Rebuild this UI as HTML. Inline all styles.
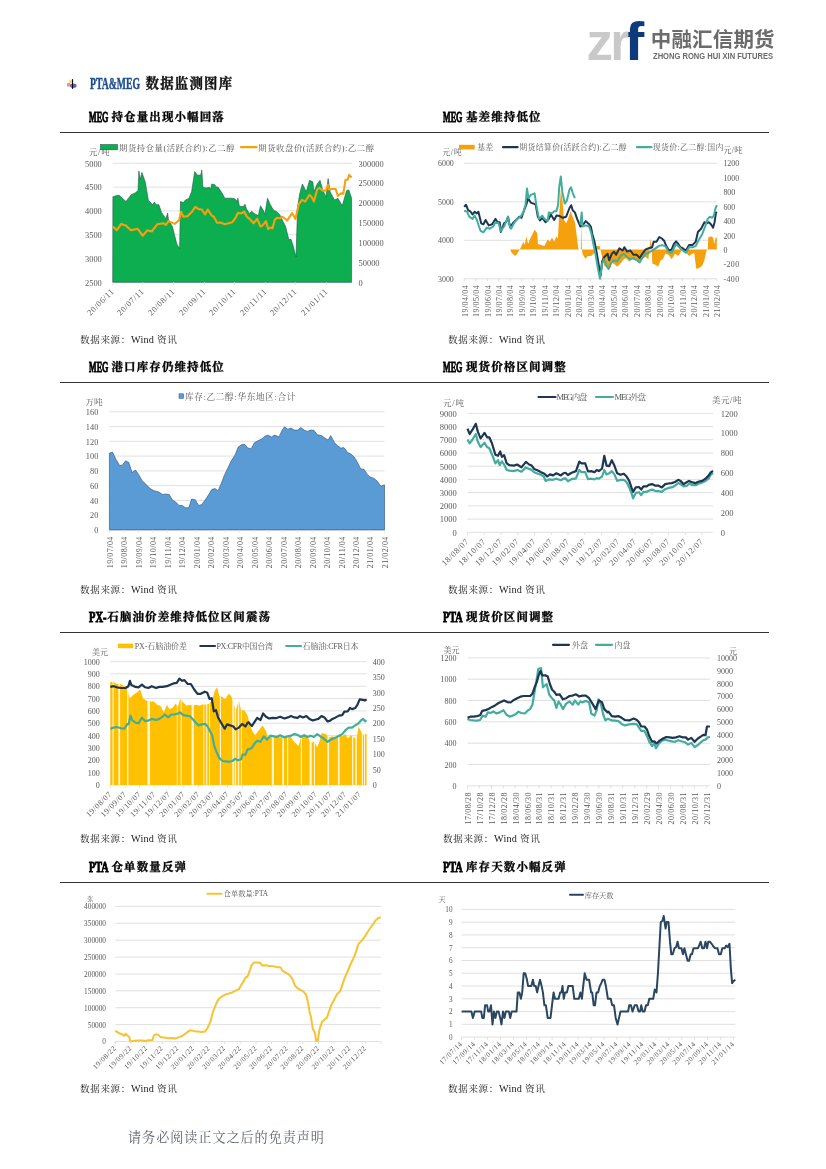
<!DOCTYPE html>
<html lang="zh"><head><meta charset="utf-8"><title>PTA&amp;MEG 数据监测图库</title>
<style>
html,body{margin:0;padding:0;background:#fff}
body{width:826px;height:1169px;position:relative;overflow:hidden;font-family:"Liberation Serif","Noto Serif CJK SC",serif}
svg{position:absolute;left:0;top:0}
svg text.s{font-family:"Liberation Sans","Noto Sans CJK SC",sans-serif;fill:#595959}
svg text.r{font-family:"Liberation Serif","Noto Serif CJK SC",serif;fill:#595959}
svg text.c{font-family:"Liberation Serif","Noto Serif CJK SC",serif;fill:#595959}
.t{position:absolute;font-weight:700;-webkit-text-stroke:.35px #000;font-size:11.5px;letter-spacing:1.1px;line-height:14px;color:#000;white-space:nowrap;font-family:"Liberation Serif","Noto Serif CJK SC",serif}
.n{display:inline-block;height:14px;vertical-align:top;white-space:nowrap}
.n>span{display:inline-block;letter-spacing:0;font-size:15px;font-weight:700;transform:scaleX(.54);transform-origin:0 50%;-webkit-text-stroke:.9px currentColor}
.src{position:absolute;font-size:9.6px;letter-spacing:.6px;line-height:12px;color:#1a1a1a;white-space:nowrap}
.src .w{letter-spacing:.2px;font-size:10.2px}
.hr{position:absolute;left:60px;width:709px;height:1px;background:#333}
.sec{position:absolute;left:89.5px;top:76.3px;font-size:13.4px;letter-spacing:1.25px;line-height:16px;font-weight:700;-webkit-text-stroke:.35px #111;color:#111;white-space:nowrap}
.sec .n{height:16px;width:56px;color:#1f4e8f}
.sec .n>span{font-size:16.5px;transform:scaleX(.59);-webkit-text-stroke:.5px #1f4e8f}
.foot{position:absolute;left:128px;top:1130.4px;font-size:13.1px;letter-spacing:.97px;line-height:16px;color:#5d6470;white-space:nowrap}
.logo{position:absolute;left:0;top:0}
.lcn{position:absolute;left:650.8px;top:26.9px;font:700 20.5px/26px "Liberation Sans","Noto Sans CJK SC",sans-serif;color:#6b6b6b;white-space:nowrap;letter-spacing:.15px}
.len{position:absolute;left:652.5px;top:49.7px;font:700 9.6px/12px "Liberation Sans",sans-serif;color:#6b6b6b;white-space:nowrap;transform:scaleX(.79);transform-origin:0 50%}
</style></head><body>
<svg width="826" height="1169" viewBox="0 0 826 1169">
<line x1="112.7" y1="163.3" x2="351.6" y2="163.3" stroke="#dcdcdc" stroke-width="0.9"/>
<line x1="112.7" y1="187.1" x2="351.6" y2="187.1" stroke="#dcdcdc" stroke-width="0.9"/>
<line x1="112.7" y1="210.9" x2="351.6" y2="210.9" stroke="#dcdcdc" stroke-width="0.9"/>
<line x1="112.7" y1="234.7" x2="351.6" y2="234.7" stroke="#dcdcdc" stroke-width="0.9"/>
<line x1="112.7" y1="258.5" x2="351.6" y2="258.5" stroke="#dcdcdc" stroke-width="0.9"/>
<line x1="112.7" y1="282.3" x2="351.6" y2="282.3" stroke="#dcdcdc" stroke-width="0.9"/>
<polygon points="112.7,282.3 112.9,196.7 116.8,195.6 119.0,195.2 122.3,198.2 126.0,201.5 131.0,194.9 135.4,192.8 138.0,190.6 138.9,171.0 140.2,179.7 141.9,172.5 145.2,181.8 148.4,200.4 152.8,204.7 154.3,202.1 156.1,204.7 158.9,204.7 161.5,212.4 165.9,218.9 167.6,213.0 168.5,220.0 172.4,226.5 174.6,235.2 176.8,244.0 179.6,248.8 180.5,201.5 183.3,202.6 185.5,199.9 188.8,198.6 191.6,191.7 194.7,171.6 197.5,175.3 200.8,174.9 201.8,169.9 202.9,187.3 206.2,187.9 209.5,187.3 210.6,189.5 211.7,184.0 214.9,184.7 216.0,186.9 218.2,187.3 222.5,193.8 224.7,198.2 231.3,198.2 234.5,198.6 237.4,201.5 237.8,198.2 239.5,206.5 243.2,206.5 245.0,204.3 246.5,209.1 249.6,213.4 251.8,211.3 254.0,213.4 258.3,215.6 260.5,205.8 263.8,211.3 264.9,214.5 267.5,198.2 270.3,204.7 273.6,210.2 276.9,211.7 280.1,215.2 282.3,220.0 285.6,226.5 288.8,239.6 291.0,239.2 293.2,246.1 296.0,257.0 297.6,206.9 299.7,193.8 302.4,184.0 306.3,191.7 309.5,180.3 312.8,181.8 313.9,191.7 317.2,184.0 320.0,180.3 322.6,189.5 325.9,197.1 328.1,178.6 330.2,192.1 334.6,199.9 337.9,198.2 342.2,205.8 344.4,198.2 346.6,190.6 348.8,189.9 351.6,198.2 351.6,282.3" fill="#0cae50" stroke="#1f5a4a" stroke-width="0.6" stroke-linejoin="round"/>
<polyline points="112.9,226.5 116.8,230.2 121.2,223.9 125.6,225.4 131.0,230.2 137.6,228.7 142.6,235.7 147.4,230.2 151.7,231.5 157.2,224.3 163.7,223.3 165.9,224.8 168.5,221.1 174.6,223.9 179.0,220.4 181.1,211.7 183.3,216.7 187.7,216.1 192.0,211.7 195.3,206.9 198.6,209.1 201.8,209.5 205.1,214.5 207.7,209.5 211.7,215.6 213.8,216.7 217.1,222.8 220.4,222.6 224.7,224.3 232.3,222.2 235.6,217.8 237.8,213.0 241.1,213.4 244.3,211.7 246.9,216.7 249.6,218.9 253.5,223.3 257.2,218.9 260.5,226.5 262.7,225.4 266.0,221.1 268.1,229.1 270.3,227.6 272.5,228.3 274.7,220.0 276.9,217.8 280.1,218.2 281.9,216.7 284.5,218.2 287.1,220.6 292.1,213.0 295.4,218.9 298.6,204.7 301.9,199.9 305.2,201.5 309.5,194.9 311.7,197.1 313.9,201.5 317.2,189.5 319.4,187.9 322.6,190.6 325.9,190.6 328.1,184.7 329.1,189.5 332.4,189.0 335.7,189.0 337.9,196.0 341.1,193.4 343.3,193.8 345.5,179.7 347.7,179.7 349.2,174.9 351.6,177.5" fill="none" stroke="#f5a10e" stroke-width="2.1" stroke-linejoin="round"/>
<line x1="112.7" y1="282.3" x2="112.7" y2="284.9" stroke="#dcdcdc" stroke-width="0.9"/>
<line x1="142.6" y1="282.3" x2="142.6" y2="284.9" stroke="#dcdcdc" stroke-width="0.9"/>
<line x1="173.5" y1="282.3" x2="173.5" y2="284.9" stroke="#dcdcdc" stroke-width="0.9"/>
<line x1="204.5" y1="282.3" x2="204.5" y2="284.9" stroke="#dcdcdc" stroke-width="0.9"/>
<line x1="234.5" y1="282.3" x2="234.5" y2="284.9" stroke="#dcdcdc" stroke-width="0.9"/>
<line x1="265.5" y1="282.3" x2="265.5" y2="284.9" stroke="#dcdcdc" stroke-width="0.9"/>
<line x1="295.4" y1="282.3" x2="295.4" y2="284.9" stroke="#dcdcdc" stroke-width="0.9"/>
<line x1="326.5" y1="282.3" x2="326.5" y2="284.9" stroke="#dcdcdc" stroke-width="0.9"/>
<text class="c" x="101.8" y="166.6" font-size="8.4" text-anchor="end">5000</text>
<text class="c" x="101.8" y="190.4" font-size="8.4" text-anchor="end">4500</text>
<text class="c" x="101.8" y="214.2" font-size="8.4" text-anchor="end">4000</text>
<text class="c" x="101.8" y="238.0" font-size="8.4" text-anchor="end">3500</text>
<text class="c" x="101.8" y="261.8" font-size="8.4" text-anchor="end">3000</text>
<text class="c" x="101.8" y="285.6" font-size="8.4" text-anchor="end">2500</text>
<text class="c" x="358.6" y="166.6" font-size="8.4" text-anchor="start">300000</text>
<text class="c" x="358.6" y="186.4" font-size="8.4" text-anchor="start">250000</text>
<text class="c" x="358.6" y="206.2" font-size="8.4" text-anchor="start">200000</text>
<text class="c" x="358.6" y="226.1" font-size="8.4" text-anchor="start">150000</text>
<text class="c" x="358.6" y="245.9" font-size="8.4" text-anchor="start">100000</text>
<text class="c" x="358.6" y="265.7" font-size="8.4" text-anchor="start">50000</text>
<text class="c" x="358.6" y="285.6" font-size="8.4" text-anchor="start">0</text>
<text class="c" transform="translate(114.2,292.3) rotate(-45)" x="-33.6" font-size="8.4" textLength="33.6">20/06/11</text>
<text class="c" transform="translate(144.1,292.3) rotate(-45)" x="-33.6" font-size="8.4" textLength="33.6">20/07/11</text>
<text class="c" transform="translate(175.0,292.3) rotate(-45)" x="-33.6" font-size="8.4" textLength="33.6">20/08/11</text>
<text class="c" transform="translate(206.0,292.3) rotate(-45)" x="-33.6" font-size="8.4" textLength="33.6">20/09/11</text>
<text class="c" transform="translate(236.0,292.3) rotate(-45)" x="-33.6" font-size="8.4" textLength="33.6">20/10/11</text>
<text class="c" transform="translate(267.0,292.3) rotate(-45)" x="-33.6" font-size="8.4" textLength="33.6">20/11/11</text>
<text class="c" transform="translate(296.9,292.3) rotate(-45)" x="-33.6" font-size="8.4" textLength="33.6">20/12/11</text>
<text class="c" transform="translate(328.0,292.3) rotate(-45)" x="-33.6" font-size="8.4" textLength="33.6">21/01/11</text>
<text class="c" x="89.0" y="154.8" font-size="8.4" text-anchor="start" textLength="20.5">元/吨</text>
<rect x="100.5" y="144.6" width="17" height="5.2" fill="#0cae50" stroke="#1f5a4a" stroke-width="0.6"/>
<text class="c" x="119.0" y="150.5" font-size="8.4" text-anchor="start" textLength="115.5">期货持仓量(活跃合约):乙二醇</text>
<line x1="241.0" y1="147.2" x2="256.5" y2="147.2" stroke="#f5a10e" stroke-width="2.2" stroke-linecap="round"/>
<text class="c" x="258.3" y="150.5" font-size="8.4" text-anchor="start" textLength="115.7">期货收盘价(活跃合约):乙二醇</text>
<line x1="464.2" y1="163.3" x2="716.8" y2="163.3" stroke="#dcdcdc" stroke-width="0.9"/>
<line x1="464.2" y1="201.8" x2="716.8" y2="201.8" stroke="#dcdcdc" stroke-width="0.9"/>
<line x1="464.2" y1="240.3" x2="716.8" y2="240.3" stroke="#dcdcdc" stroke-width="0.9"/>
<line x1="464.2" y1="278.8" x2="716.8" y2="278.8" stroke="#dcdcdc" stroke-width="0.9"/>
<polygon points="510.0,249.6 510.0,249.4 511.7,252.7 515.0,255.9 517.2,253.8 519.8,249.4 521.5,246.1 523.3,241.8 524.8,245.1 526.3,236.3 528.1,244.0 529.8,239.6 532.4,234.2 534.6,229.8 537.2,233.1 537.9,244.0 541.1,245.1 544.4,246.1 547.7,239.6 549.9,241.8 552.0,237.4 554.2,241.8 556.4,236.3 557.9,238.5 559.0,217.8 560.8,189.5 562.5,200.4 564.0,220.0 566.2,223.3 568.4,217.8 570.6,211.3 572.7,216.7 574.9,222.2 576.4,233.1 578.2,248.3 579.3,249.4 580.8,249.4 581.2,222.2 581.9,249.4 582.5,253.8 585.2,258.8 588.0,255.9 591.3,255.9 594.5,252.7 596.7,246.1 599.5,246.1 600.4,249.4 602.1,257.0 604.3,265.8 607.6,267.9 610.7,267.9 611.8,262.5 615.1,264.7 617.2,266.8 620.5,263.6 623.8,259.2 626.0,258.1 629.2,261.4 632.5,259.2 635.8,260.3 639.0,262.5 642.3,258.1 645.6,257.0 648.4,259.2 649.5,249.4 650.6,238.5 651.7,249.4 652.3,263.6 655.4,264.7 658.0,266.8 660.8,260.3 663.0,259.2 665.2,253.8 668.5,254.8 671.7,259.2 675.0,253.8 678.3,255.9 680.4,252.7 681.5,249.4 682.6,246.1 684.8,249.4 687.0,253.8 689.1,255.9 692.4,253.8 694.2,252.7 696.3,269.0 699.0,267.9 702.2,265.8 704.4,260.3 706.6,250.5 707.7,249.4 708.3,237.4 710.9,236.3 713.1,237.4 714.2,244.0 715.7,237.4 716.8,237.4 716.8,249.6" fill="#f5a10e"/>
<polyline points="464.2,206.9 466.0,204.7 468.1,210.2 470.3,211.3 472.5,214.5 474.7,211.7 476.9,213.4 478.4,211.7 481.2,223.3 483.4,224.3 485.6,220.0 488.8,225.4 492.1,224.3 495.4,218.9 497.6,222.2 499.7,222.2 500.8,232.0 504.1,223.3 506.3,221.7 508.0,216.7 510.2,227.6 512.8,223.3 516.1,220.0 519.4,216.7 521.5,217.8 524.1,210.2 526.3,204.7 528.1,198.2 530.7,202.6 533.5,203.6 535.7,204.7 537.9,216.7 540.0,220.4 542.2,217.8 545.5,222.2 548.8,218.9 550.9,214.5 554.2,220.0 556.4,215.6 559.7,216.1 562.9,217.8 566.2,216.7 569.5,208.0 571.2,205.2 572.7,210.2 574.9,212.4 577.1,218.9 580.4,226.5 582.5,225.4 585.8,221.1 589.1,224.3 590.8,226.5 592.4,234.2 594.5,241.8 596.7,252.7 598.9,265.8 600.6,275.6 602.1,261.4 604.3,257.0 607.6,253.8 609.2,260.3 611.8,253.8 614.0,251.6 616.1,254.8 619.4,248.3 622.7,250.5 624.4,247.2 627.0,251.6 630.3,250.5 633.6,254.8 636.9,254.8 639.7,258.1 642.3,253.8 645.6,249.4 648.8,248.3 652.1,247.2 653.6,241.8 656.5,241.8 659.3,237.0 661.9,238.5 664.1,240.7 666.3,246.1 668.9,250.5 671.7,249.4 673.9,244.0 676.1,241.3 678.3,244.0 680.4,247.2 682.6,248.3 685.9,250.5 689.1,245.1 692.4,245.1 695.7,241.8 697.9,232.0 701.1,228.7 704.4,222.2 706.6,223.3 708.8,222.2 710.9,224.3 713.1,227.6 714.6,222.2 716.0,212.4 716.8,213.4" fill="none" stroke="#1c3653" stroke-width="2" stroke-linejoin="round"/>
<polyline points="464.2,210.8 467.1,211.7 469.2,216.7 472.5,218.9 474.7,215.6 476.9,220.0 479.0,226.5 480.6,230.9 483.4,232.4 486.7,227.6 489.9,228.7 493.2,226.5 495.4,222.2 498.6,223.3 500.8,230.9 504.1,226.5 506.3,221.1 508.0,216.7 509.5,225.4 511.1,228.7 513.9,223.3 517.2,218.9 520.4,216.7 523.3,212.4 525.5,204.7 527.0,188.4 528.5,198.2 530.7,194.9 534.6,193.4 536.3,204.7 537.9,213.4 539.0,218.9 542.2,215.6 544.4,218.9 547.7,221.1 548.8,212.4 552.0,213.4 554.2,211.3 556.4,211.3 558.1,204.7 559.2,187.3 560.8,176.4 562.3,191.7 564.7,203.6 566.9,200.4 569.5,189.5 571.0,187.3 572.7,192.8 574.9,198.2" fill="none" stroke="#42ad9d" stroke-width="2" stroke-linejoin="round"/>
<polyline points="580.4,224.3 581.7,212.4 582.5,226.5 585.8,225.4 589.1,226.5 591.3,233.1 593.4,244.0 595.6,254.8 597.8,267.9 600.0,278.8 602.1,263.6 603.9,259.2 606.5,265.8 608.5,269.0 610.7,263.6 614.0,260.3 617.2,261.4 620.5,255.9 623.8,253.8 627.0,257.0 630.3,259.2 633.6,258.1 636.9,260.3 639.7,262.5 642.3,258.1 645.6,253.8 648.8,252.7 652.1,250.5 655.4,248.3 658.6,246.1 661.9,245.1 665.2,246.1 668.5,251.6 671.7,252.7 673.9,248.3 676.1,244.0 679.4,247.2 682.6,250.5 685.9,252.7 689.1,247.2 692.4,247.2 695.7,246.1 699.0,239.6 702.2,234.2 705.5,225.4 707.7,218.9 709.9,216.7 712.0,217.8 713.8,215.6 715.3,209.1 716.8,205.2" fill="none" stroke="#42ad9d" stroke-width="2" stroke-linejoin="round"/>
<line x1="464.2" y1="278.8" x2="464.2" y2="281.4" stroke="#dcdcdc" stroke-width="0.9"/>
<line x1="475.7" y1="278.8" x2="475.7" y2="281.4" stroke="#dcdcdc" stroke-width="0.9"/>
<line x1="487.2" y1="278.8" x2="487.2" y2="281.4" stroke="#dcdcdc" stroke-width="0.9"/>
<line x1="498.6" y1="278.8" x2="498.6" y2="281.4" stroke="#dcdcdc" stroke-width="0.9"/>
<line x1="510.1" y1="278.8" x2="510.1" y2="281.4" stroke="#dcdcdc" stroke-width="0.9"/>
<line x1="521.6" y1="278.8" x2="521.6" y2="281.4" stroke="#dcdcdc" stroke-width="0.9"/>
<line x1="533.1" y1="278.8" x2="533.1" y2="281.4" stroke="#dcdcdc" stroke-width="0.9"/>
<line x1="544.6" y1="278.8" x2="544.6" y2="281.4" stroke="#dcdcdc" stroke-width="0.9"/>
<line x1="556.1" y1="278.8" x2="556.1" y2="281.4" stroke="#dcdcdc" stroke-width="0.9"/>
<line x1="567.5" y1="278.8" x2="567.5" y2="281.4" stroke="#dcdcdc" stroke-width="0.9"/>
<line x1="579.0" y1="278.8" x2="579.0" y2="281.4" stroke="#dcdcdc" stroke-width="0.9"/>
<line x1="590.5" y1="278.8" x2="590.5" y2="281.4" stroke="#dcdcdc" stroke-width="0.9"/>
<line x1="602.0" y1="278.8" x2="602.0" y2="281.4" stroke="#dcdcdc" stroke-width="0.9"/>
<line x1="613.5" y1="278.8" x2="613.5" y2="281.4" stroke="#dcdcdc" stroke-width="0.9"/>
<line x1="624.9" y1="278.8" x2="624.9" y2="281.4" stroke="#dcdcdc" stroke-width="0.9"/>
<line x1="636.4" y1="278.8" x2="636.4" y2="281.4" stroke="#dcdcdc" stroke-width="0.9"/>
<line x1="647.9" y1="278.8" x2="647.9" y2="281.4" stroke="#dcdcdc" stroke-width="0.9"/>
<line x1="659.4" y1="278.8" x2="659.4" y2="281.4" stroke="#dcdcdc" stroke-width="0.9"/>
<line x1="670.9" y1="278.8" x2="670.9" y2="281.4" stroke="#dcdcdc" stroke-width="0.9"/>
<line x1="682.4" y1="278.8" x2="682.4" y2="281.4" stroke="#dcdcdc" stroke-width="0.9"/>
<line x1="693.8" y1="278.8" x2="693.8" y2="281.4" stroke="#dcdcdc" stroke-width="0.9"/>
<line x1="705.3" y1="278.8" x2="705.3" y2="281.4" stroke="#dcdcdc" stroke-width="0.9"/>
<line x1="716.8" y1="278.8" x2="716.8" y2="281.4" stroke="#dcdcdc" stroke-width="0.9"/>
<text class="c" x="453.8" y="166.4" font-size="7.9" text-anchor="end">6000</text>
<text class="c" x="453.8" y="204.9" font-size="7.9" text-anchor="end">5000</text>
<text class="c" x="453.8" y="243.4" font-size="7.9" text-anchor="end">4000</text>
<text class="c" x="453.8" y="281.9" font-size="7.9" text-anchor="end">3000</text>
<text class="c" x="723.4" y="166.4" font-size="7.9" text-anchor="start">1200</text>
<text class="c" x="723.4" y="180.8" font-size="7.9" text-anchor="start">1000</text>
<text class="c" x="723.4" y="195.3" font-size="7.9" text-anchor="start">800</text>
<text class="c" x="723.4" y="209.7" font-size="7.9" text-anchor="start">600</text>
<text class="c" x="723.4" y="224.1" font-size="7.9" text-anchor="start">400</text>
<text class="c" x="723.4" y="238.6" font-size="7.9" text-anchor="start">200</text>
<text class="c" x="723.4" y="253.0" font-size="7.9" text-anchor="start">0</text>
<text class="c" x="723.4" y="267.4" font-size="7.9" text-anchor="start" textLength="15.8">-200</text>
<text class="c" x="723.4" y="281.9" font-size="7.9" text-anchor="start" textLength="15.8">-400</text>
<text class="c" transform="translate(467.5,285.4) rotate(-90)" x="-31.6" font-size="7.9" textLength="31.6">19/04/04</text>
<text class="c" transform="translate(479.0,285.4) rotate(-90)" x="-31.6" font-size="7.9" textLength="31.6">19/05/04</text>
<text class="c" transform="translate(490.5,285.4) rotate(-90)" x="-31.6" font-size="7.9" textLength="31.6">19/06/04</text>
<text class="c" transform="translate(501.9,285.4) rotate(-90)" x="-31.6" font-size="7.9" textLength="31.6">19/07/04</text>
<text class="c" transform="translate(513.4,285.4) rotate(-90)" x="-31.6" font-size="7.9" textLength="31.6">19/08/04</text>
<text class="c" transform="translate(524.9,285.4) rotate(-90)" x="-31.6" font-size="7.9" textLength="31.6">19/09/04</text>
<text class="c" transform="translate(536.4,285.4) rotate(-90)" x="-31.6" font-size="7.9" textLength="31.6">19/10/04</text>
<text class="c" transform="translate(547.9,285.4) rotate(-90)" x="-31.6" font-size="7.9" textLength="31.6">19/11/04</text>
<text class="c" transform="translate(559.4,285.4) rotate(-90)" x="-31.6" font-size="7.9" textLength="31.6">19/12/04</text>
<text class="c" transform="translate(570.8,285.4) rotate(-90)" x="-31.6" font-size="7.9" textLength="31.6">20/01/04</text>
<text class="c" transform="translate(582.3,285.4) rotate(-90)" x="-31.6" font-size="7.9" textLength="31.6">20/02/04</text>
<text class="c" transform="translate(593.8,285.4) rotate(-90)" x="-31.6" font-size="7.9" textLength="31.6">20/03/04</text>
<text class="c" transform="translate(605.3,285.4) rotate(-90)" x="-31.6" font-size="7.9" textLength="31.6">20/04/04</text>
<text class="c" transform="translate(616.8,285.4) rotate(-90)" x="-31.6" font-size="7.9" textLength="31.6">20/05/04</text>
<text class="c" transform="translate(628.2,285.4) rotate(-90)" x="-31.6" font-size="7.9" textLength="31.6">20/06/04</text>
<text class="c" transform="translate(639.7,285.4) rotate(-90)" x="-31.6" font-size="7.9" textLength="31.6">20/07/04</text>
<text class="c" transform="translate(651.2,285.4) rotate(-90)" x="-31.6" font-size="7.9" textLength="31.6">20/08/04</text>
<text class="c" transform="translate(662.7,285.4) rotate(-90)" x="-31.6" font-size="7.9" textLength="31.6">20/09/04</text>
<text class="c" transform="translate(674.2,285.4) rotate(-90)" x="-31.6" font-size="7.9" textLength="31.6">20/10/04</text>
<text class="c" transform="translate(685.7,285.4) rotate(-90)" x="-31.6" font-size="7.9" textLength="31.6">20/11/04</text>
<text class="c" transform="translate(697.1,285.4) rotate(-90)" x="-31.6" font-size="7.9" textLength="31.6">20/12/04</text>
<text class="c" transform="translate(708.6,285.4) rotate(-90)" x="-31.6" font-size="7.9" textLength="31.6">21/01/04</text>
<text class="c" transform="translate(720.1,285.4) rotate(-90)" x="-31.6" font-size="7.9" textLength="31.6">21/02/04</text>
<text class="c" x="442.2" y="154.5" font-size="7.9" text-anchor="start" textLength="19.5">元/吨</text>
<rect x="459" y="144.8" width="15.7" height="4.6" fill="#f5a10e"/>
<text class="c" x="477.3" y="150.2" font-size="7.9" text-anchor="start">基差</text>
<line x1="503.0" y1="147.2" x2="517.6" y2="147.2" stroke="#1c3653" stroke-width="2.2" stroke-linecap="round"/>
<text class="c" x="519.3" y="150.2" font-size="7.9" text-anchor="start" textLength="107.3">期货结算价(活跃合约):乙二醇</text>
<line x1="637.0" y1="147.2" x2="651.4" y2="147.2" stroke="#42ad9d" stroke-width="2.2" stroke-linecap="round"/>
<text class="c" x="652.7" y="150.2" font-size="7.9" text-anchor="start" textLength="70.7">现货价:乙二醇:国内</text>
<text class="c" x="723.6" y="153.0" font-size="7.9" text-anchor="start" textLength="18.5">元/吨</text>
<line x1="109.4" y1="411.8" x2="384.5" y2="411.8" stroke="#dcdcdc" stroke-width="0.9"/>
<line x1="109.4" y1="426.6" x2="384.5" y2="426.6" stroke="#dcdcdc" stroke-width="0.9"/>
<line x1="109.4" y1="441.3" x2="384.5" y2="441.3" stroke="#dcdcdc" stroke-width="0.9"/>
<line x1="109.4" y1="456.1" x2="384.5" y2="456.1" stroke="#dcdcdc" stroke-width="0.9"/>
<line x1="109.4" y1="470.9" x2="384.5" y2="470.9" stroke="#dcdcdc" stroke-width="0.9"/>
<line x1="109.4" y1="485.6" x2="384.5" y2="485.6" stroke="#dcdcdc" stroke-width="0.9"/>
<line x1="109.4" y1="500.4" x2="384.5" y2="500.4" stroke="#dcdcdc" stroke-width="0.9"/>
<line x1="109.4" y1="515.1" x2="384.5" y2="515.1" stroke="#dcdcdc" stroke-width="0.9"/>
<line x1="109.4" y1="529.9" x2="384.5" y2="529.9" stroke="#dcdcdc" stroke-width="0.9"/>
<polygon points="109.4,529.9 109.4,453.2 112.5,452.1 115.8,459.1 119.7,465.6 122.3,465.2 125.6,460.8 128.8,462.4 132.1,472.6 135.4,470.0 138.6,474.4 141.9,480.4 145.2,483.5 149.5,488.1 153.9,490.7 158.3,491.8 162.6,494.4 165.9,494.0 169.2,494.6 172.4,500.1 175.7,502.0 179.0,505.5 182.2,505.5 185.5,507.7 188.8,507.7 191.6,499.0 195.3,499.8 198.6,505.5 201.8,504.4 205.1,500.1 208.4,495.1 211.7,489.6 214.9,488.5 218.2,490.7 221.4,483.1 224.7,474.4 228.0,467.8 231.3,460.8 235.2,454.7 238.2,447.1 242.2,444.3 245.0,444.5 247.6,447.8 251.1,448.9 254.4,442.8 258.3,440.6 261.6,439.0 264.9,436.2 268.1,435.1 271.4,436.9 274.7,435.1 279.0,436.9 282.3,429.7 284.5,426.8 287.8,429.2 291.0,428.1 294.3,430.1 297.6,430.1 300.8,427.5 304.1,430.1 307.4,431.4 310.6,430.1 313.9,430.3 317.2,434.7 321.5,435.6 324.8,437.9 328.1,440.1 330.7,435.6 334.6,442.8 337.9,446.0 341.1,448.2 343.8,447.5 347.7,452.6 350.9,454.1 354.2,456.9 357.5,462.4 360.8,468.9 364.0,469.3 367.3,474.4 370.6,477.2 373.8,478.3 377.1,480.9 380.8,486.3 384.5,484.8 384.5,529.9" fill="#5b9bd5" stroke="#2a4f78" stroke-width="0.6" stroke-linejoin="round"/>
<line x1="109.4" y1="529.9" x2="109.4" y2="532.5" stroke="#dcdcdc" stroke-width="0.9"/>
<line x1="123.9" y1="529.9" x2="123.9" y2="532.5" stroke="#dcdcdc" stroke-width="0.9"/>
<line x1="138.4" y1="529.9" x2="138.4" y2="532.5" stroke="#dcdcdc" stroke-width="0.9"/>
<line x1="152.8" y1="529.9" x2="152.8" y2="532.5" stroke="#dcdcdc" stroke-width="0.9"/>
<line x1="167.3" y1="529.9" x2="167.3" y2="532.5" stroke="#dcdcdc" stroke-width="0.9"/>
<line x1="181.8" y1="529.9" x2="181.8" y2="532.5" stroke="#dcdcdc" stroke-width="0.9"/>
<line x1="196.3" y1="529.9" x2="196.3" y2="532.5" stroke="#dcdcdc" stroke-width="0.9"/>
<line x1="210.8" y1="529.9" x2="210.8" y2="532.5" stroke="#dcdcdc" stroke-width="0.9"/>
<line x1="225.2" y1="529.9" x2="225.2" y2="532.5" stroke="#dcdcdc" stroke-width="0.9"/>
<line x1="239.7" y1="529.9" x2="239.7" y2="532.5" stroke="#dcdcdc" stroke-width="0.9"/>
<line x1="254.2" y1="529.9" x2="254.2" y2="532.5" stroke="#dcdcdc" stroke-width="0.9"/>
<line x1="268.7" y1="529.9" x2="268.7" y2="532.5" stroke="#dcdcdc" stroke-width="0.9"/>
<line x1="283.1" y1="529.9" x2="283.1" y2="532.5" stroke="#dcdcdc" stroke-width="0.9"/>
<line x1="297.6" y1="529.9" x2="297.6" y2="532.5" stroke="#dcdcdc" stroke-width="0.9"/>
<line x1="312.1" y1="529.9" x2="312.1" y2="532.5" stroke="#dcdcdc" stroke-width="0.9"/>
<line x1="326.6" y1="529.9" x2="326.6" y2="532.5" stroke="#dcdcdc" stroke-width="0.9"/>
<line x1="341.1" y1="529.9" x2="341.1" y2="532.5" stroke="#dcdcdc" stroke-width="0.9"/>
<line x1="355.5" y1="529.9" x2="355.5" y2="532.5" stroke="#dcdcdc" stroke-width="0.9"/>
<line x1="370.0" y1="529.9" x2="370.0" y2="532.5" stroke="#dcdcdc" stroke-width="0.9"/>
<line x1="384.5" y1="529.9" x2="384.5" y2="532.5" stroke="#dcdcdc" stroke-width="0.9"/>
<text class="c" x="98.3" y="415.0" font-size="8.3" text-anchor="end">160</text>
<text class="c" x="98.3" y="429.8" font-size="8.3" text-anchor="end">140</text>
<text class="c" x="98.3" y="444.6" font-size="8.3" text-anchor="end">120</text>
<text class="c" x="98.3" y="459.3" font-size="8.3" text-anchor="end">100</text>
<text class="c" x="98.3" y="474.1" font-size="8.3" text-anchor="end">80</text>
<text class="c" x="98.3" y="488.8" font-size="8.3" text-anchor="end">60</text>
<text class="c" x="98.3" y="503.6" font-size="8.3" text-anchor="end">40</text>
<text class="c" x="98.3" y="518.4" font-size="8.3" text-anchor="end">20</text>
<text class="c" x="98.3" y="533.1" font-size="8.3" text-anchor="end">0</text>
<text class="c" transform="translate(112.8,536.7) rotate(-90)" x="-31.6" font-size="7.9" textLength="31.6">19/07/04</text>
<text class="c" transform="translate(127.3,536.7) rotate(-90)" x="-31.6" font-size="7.9" textLength="31.6">19/08/04</text>
<text class="c" transform="translate(141.8,536.7) rotate(-90)" x="-31.6" font-size="7.9" textLength="31.6">19/09/04</text>
<text class="c" transform="translate(156.2,536.7) rotate(-90)" x="-31.6" font-size="7.9" textLength="31.6">19/10/04</text>
<text class="c" transform="translate(170.7,536.7) rotate(-90)" x="-31.6" font-size="7.9" textLength="31.6">19/11/04</text>
<text class="c" transform="translate(185.2,536.7) rotate(-90)" x="-31.6" font-size="7.9" textLength="31.6">19/12/04</text>
<text class="c" transform="translate(199.7,536.7) rotate(-90)" x="-31.6" font-size="7.9" textLength="31.6">20/01/04</text>
<text class="c" transform="translate(214.2,536.7) rotate(-90)" x="-31.6" font-size="7.9" textLength="31.6">20/02/04</text>
<text class="c" transform="translate(228.6,536.7) rotate(-90)" x="-31.6" font-size="7.9" textLength="31.6">20/03/04</text>
<text class="c" transform="translate(243.1,536.7) rotate(-90)" x="-31.6" font-size="7.9" textLength="31.6">20/04/04</text>
<text class="c" transform="translate(257.6,536.7) rotate(-90)" x="-31.6" font-size="7.9" textLength="31.6">20/05/04</text>
<text class="c" transform="translate(272.1,536.7) rotate(-90)" x="-31.6" font-size="7.9" textLength="31.6">20/06/04</text>
<text class="c" transform="translate(286.5,536.7) rotate(-90)" x="-31.6" font-size="7.9" textLength="31.6">20/07/04</text>
<text class="c" transform="translate(301.0,536.7) rotate(-90)" x="-31.6" font-size="7.9" textLength="31.6">20/08/04</text>
<text class="c" transform="translate(315.5,536.7) rotate(-90)" x="-31.6" font-size="7.9" textLength="31.6">20/09/04</text>
<text class="c" transform="translate(330.0,536.7) rotate(-90)" x="-31.6" font-size="7.9" textLength="31.6">20/10/04</text>
<text class="c" transform="translate(344.5,536.7) rotate(-90)" x="-31.6" font-size="7.9" textLength="31.6">20/11/04</text>
<text class="c" transform="translate(358.9,536.7) rotate(-90)" x="-31.6" font-size="7.9" textLength="31.6">20/12/04</text>
<text class="c" transform="translate(373.4,536.7) rotate(-90)" x="-31.6" font-size="7.9" textLength="31.6">21/01/04</text>
<text class="c" transform="translate(387.9,536.7) rotate(-90)" x="-31.6" font-size="7.9" textLength="31.6">21/02/04</text>
<text class="c" x="85.6" y="405.3" font-size="8.5" text-anchor="start">万吨</text>
<rect x="179" y="393.8" width="4.6" height="4.6" fill="#5b9bd5" stroke="#2a4f78" stroke-width="0.5"/>
<text class="c" x="185.0" y="399.6" font-size="8.6" text-anchor="start" textLength="110.4">库存:乙二醇:华东地区:合计</text>
<line x1="467.5" y1="413.3" x2="713.1" y2="413.3" stroke="#dcdcdc" stroke-width="0.9"/>
<line x1="467.5" y1="426.5" x2="713.1" y2="426.5" stroke="#dcdcdc" stroke-width="0.9"/>
<line x1="467.5" y1="439.7" x2="713.1" y2="439.7" stroke="#dcdcdc" stroke-width="0.9"/>
<line x1="467.5" y1="453.0" x2="713.1" y2="453.0" stroke="#dcdcdc" stroke-width="0.9"/>
<line x1="467.5" y1="466.2" x2="713.1" y2="466.2" stroke="#dcdcdc" stroke-width="0.9"/>
<line x1="467.5" y1="479.4" x2="713.1" y2="479.4" stroke="#dcdcdc" stroke-width="0.9"/>
<line x1="467.5" y1="492.6" x2="713.1" y2="492.6" stroke="#dcdcdc" stroke-width="0.9"/>
<line x1="467.5" y1="505.9" x2="713.1" y2="505.9" stroke="#dcdcdc" stroke-width="0.9"/>
<line x1="467.5" y1="519.1" x2="713.1" y2="519.1" stroke="#dcdcdc" stroke-width="0.9"/>
<line x1="467.5" y1="532.3" x2="713.1" y2="532.3" stroke="#dcdcdc" stroke-width="0.9"/>
<polyline points="467.5,439.5 469.7,443.4 472.5,439.5 475.8,434.0 477.9,442.1 480.6,447.1 484.5,442.8 487.1,447.1 489.3,448.2 492.1,454.7 495.4,463.4 498.0,460.2 499.7,465.2 501.9,461.3 504.1,464.5 506.7,470.0 509.5,470.6 513.9,471.1 517.2,470.0 521.5,471.7 525.9,467.4 529.1,468.9 531.3,469.6 534.2,472.2 537.9,473.7 541.1,474.8 543.8,476.5 545.5,480.9 548.8,479.4 553.1,479.8 556.4,478.7 560.8,480.2 563.4,478.7 565.5,478.3 567.9,481.3 571.6,479.1 576.0,478.3 579.3,470.0 581.5,472.2 585.2,472.2 588.0,479.1 591.3,478.7 594.5,479.4 596.7,478.1 598.9,478.7 602.1,476.5 604.3,470.0 606.5,474.4 609.2,473.3 611.8,471.1 614.4,474.4 617.2,480.9 620.5,479.8 623.8,479.8 626.6,482.0 629.2,487.4 631.4,492.9 633.1,498.3 635.8,492.9 639.0,492.2 641.2,495.1 643.4,491.8 646.7,491.8 648.8,490.7 652.1,489.6 655.4,491.1 658.6,491.1 661.9,491.8 665.2,489.2 668.5,487.9 671.7,487.4 675.0,485.7 678.3,483.1 680.4,484.1 683.7,486.3 687.0,485.7 689.1,483.5 692.4,485.2 695.7,485.2 699.0,483.5 702.2,482.6 705.5,480.9 708.8,478.3 710.9,474.4 713.1,473.3" fill="none" stroke="#42ad9d" stroke-width="2.2" stroke-linejoin="round"/>
<polyline points="467.5,428.6 469.7,434.0 472.5,429.7 475.8,423.8 477.9,431.9 480.6,438.4 484.5,432.9 487.1,437.3 489.3,437.3 492.1,443.8 495.4,454.7 498.0,455.8 500.2,451.5 501.9,456.9 504.1,455.2 506.7,463.4 509.5,465.2 513.9,465.6 517.2,464.5 521.5,467.4 525.9,461.9 529.1,464.5 531.3,465.2 534.2,468.9 537.9,470.6 541.1,472.2 544.4,473.7 547.2,476.5 549.9,474.4 553.1,475.4 556.4,473.3 560.8,475.4 563.4,473.3 565.5,472.8 567.9,475.0 571.6,472.8 576.0,471.1 579.3,461.7 581.5,463.4 585.2,463.4 588.0,471.5 591.3,471.1 594.5,472.2 596.7,470.0 598.9,471.1 602.1,468.5 604.3,455.8 606.5,465.6 609.2,466.1 611.8,460.2 614.4,465.6 617.2,473.3 620.5,474.8 623.8,473.7 626.6,476.5 629.2,480.9 631.4,487.4 633.1,491.8 635.8,487.4 639.0,487.0 641.2,489.6 643.4,486.3 646.7,486.3 648.8,484.8 652.1,484.1 655.4,485.7 658.6,485.7 661.9,487.4 665.2,484.1 668.5,483.5 671.7,483.1 675.0,482.0 678.3,479.8 680.4,480.9 683.7,484.1 687.0,482.0 689.1,480.9 692.4,482.4 695.7,483.1 699.0,481.5 702.2,480.9 705.5,478.7 708.8,475.4 710.9,472.2 713.1,471.1" fill="none" stroke="#1c3653" stroke-width="2.2" stroke-linejoin="round"/>
<line x1="467.5" y1="532.3" x2="467.5" y2="534.9" stroke="#dcdcdc" stroke-width="0.9"/>
<line x1="484.3" y1="532.3" x2="484.3" y2="534.9" stroke="#dcdcdc" stroke-width="0.9"/>
<line x1="501.0" y1="532.3" x2="501.0" y2="534.9" stroke="#dcdcdc" stroke-width="0.9"/>
<line x1="517.8" y1="532.3" x2="517.8" y2="534.9" stroke="#dcdcdc" stroke-width="0.9"/>
<line x1="534.5" y1="532.3" x2="534.5" y2="534.9" stroke="#dcdcdc" stroke-width="0.9"/>
<line x1="551.3" y1="532.3" x2="551.3" y2="534.9" stroke="#dcdcdc" stroke-width="0.9"/>
<line x1="568.1" y1="532.3" x2="568.1" y2="534.9" stroke="#dcdcdc" stroke-width="0.9"/>
<line x1="584.8" y1="532.3" x2="584.8" y2="534.9" stroke="#dcdcdc" stroke-width="0.9"/>
<line x1="601.6" y1="532.3" x2="601.6" y2="534.9" stroke="#dcdcdc" stroke-width="0.9"/>
<line x1="618.3" y1="532.3" x2="618.3" y2="534.9" stroke="#dcdcdc" stroke-width="0.9"/>
<line x1="635.1" y1="532.3" x2="635.1" y2="534.9" stroke="#dcdcdc" stroke-width="0.9"/>
<line x1="651.9" y1="532.3" x2="651.9" y2="534.9" stroke="#dcdcdc" stroke-width="0.9"/>
<line x1="668.6" y1="532.3" x2="668.6" y2="534.9" stroke="#dcdcdc" stroke-width="0.9"/>
<line x1="685.4" y1="532.3" x2="685.4" y2="534.9" stroke="#dcdcdc" stroke-width="0.9"/>
<line x1="702.1" y1="532.3" x2="702.1" y2="534.9" stroke="#dcdcdc" stroke-width="0.9"/>
<text class="c" x="456.8" y="416.6" font-size="8.5" text-anchor="end">9000</text>
<text class="c" x="456.8" y="429.8" font-size="8.5" text-anchor="end">8000</text>
<text class="c" x="456.8" y="443.1" font-size="8.5" text-anchor="end">7000</text>
<text class="c" x="456.8" y="456.3" font-size="8.5" text-anchor="end">6000</text>
<text class="c" x="456.8" y="469.5" font-size="8.5" text-anchor="end">5000</text>
<text class="c" x="456.8" y="482.7" font-size="8.5" text-anchor="end">4000</text>
<text class="c" x="456.8" y="495.9" font-size="8.5" text-anchor="end">3000</text>
<text class="c" x="456.8" y="509.2" font-size="8.5" text-anchor="end">2000</text>
<text class="c" x="456.8" y="522.4" font-size="8.5" text-anchor="end">1000</text>
<text class="c" x="456.8" y="535.6" font-size="8.5" text-anchor="end">0</text>
<text class="c" x="720.7" y="416.6" font-size="8.5" text-anchor="start">1200</text>
<text class="c" x="720.7" y="436.4" font-size="8.5" text-anchor="start">1000</text>
<text class="c" x="720.7" y="456.3" font-size="8.5" text-anchor="start">800</text>
<text class="c" x="720.7" y="476.1" font-size="8.5" text-anchor="start">600</text>
<text class="c" x="720.7" y="495.9" font-size="8.5" text-anchor="start">400</text>
<text class="c" x="720.7" y="515.8" font-size="8.5" text-anchor="start">200</text>
<text class="c" x="720.7" y="535.6" font-size="8.5" text-anchor="start">0</text>
<text class="c" transform="translate(469.0,542.3) rotate(-45)" x="-34.0" font-size="8.5" textLength="34.0">18/08/07</text>
<text class="c" transform="translate(485.8,542.3) rotate(-45)" x="-34.0" font-size="8.5" textLength="34.0">18/10/07</text>
<text class="c" transform="translate(502.5,542.3) rotate(-45)" x="-34.0" font-size="8.5" textLength="34.0">18/12/07</text>
<text class="c" transform="translate(519.3,542.3) rotate(-45)" x="-34.0" font-size="8.5" textLength="34.0">19/02/07</text>
<text class="c" transform="translate(536.0,542.3) rotate(-45)" x="-34.0" font-size="8.5" textLength="34.0">19/04/07</text>
<text class="c" transform="translate(552.8,542.3) rotate(-45)" x="-34.0" font-size="8.5" textLength="34.0">19/06/07</text>
<text class="c" transform="translate(569.6,542.3) rotate(-45)" x="-34.0" font-size="8.5" textLength="34.0">19/08/07</text>
<text class="c" transform="translate(586.3,542.3) rotate(-45)" x="-34.0" font-size="8.5" textLength="34.0">19/10/07</text>
<text class="c" transform="translate(603.1,542.3) rotate(-45)" x="-34.0" font-size="8.5" textLength="34.0">19/12/07</text>
<text class="c" transform="translate(619.8,542.3) rotate(-45)" x="-34.0" font-size="8.5" textLength="34.0">20/02/07</text>
<text class="c" transform="translate(636.6,542.3) rotate(-45)" x="-34.0" font-size="8.5" textLength="34.0">20/04/07</text>
<text class="c" transform="translate(653.4,542.3) rotate(-45)" x="-34.0" font-size="8.5" textLength="34.0">20/06/07</text>
<text class="c" transform="translate(670.1,542.3) rotate(-45)" x="-34.0" font-size="8.5" textLength="34.0">20/08/07</text>
<text class="c" transform="translate(686.9,542.3) rotate(-45)" x="-34.0" font-size="8.5" textLength="34.0">20/10/07</text>
<text class="c" transform="translate(703.6,542.3) rotate(-45)" x="-34.0" font-size="8.5" textLength="34.0">20/12/07</text>
<text class="c" x="443.0" y="405.8" font-size="8.5" text-anchor="start" textLength="21.0">元/吨</text>
<line x1="538.5" y1="397.0" x2="555.5" y2="397.0" stroke="#1c3653" stroke-width="2.2" stroke-linecap="round"/>
<text class="c" x="556.6" y="400.3" font-size="8.5" text-anchor="start" textLength="30.9">MEG内盘</text>
<line x1="596.0" y1="397.0" x2="613.0" y2="397.0" stroke="#42ad9d" stroke-width="2.2" stroke-linecap="round"/>
<text class="c" x="614.6" y="400.3" font-size="8.5" text-anchor="start" textLength="31.5">MEG外盘</text>
<text class="c" x="712.0" y="402.8" font-size="8.5" text-anchor="start" textLength="29.4">美元/吨</text>
<line x1="110.3" y1="661.6" x2="366.6" y2="661.6" stroke="#dcdcdc" stroke-width="0.9"/>
<line x1="110.3" y1="673.9" x2="366.6" y2="673.9" stroke="#dcdcdc" stroke-width="0.9"/>
<line x1="110.3" y1="686.3" x2="366.6" y2="686.3" stroke="#dcdcdc" stroke-width="0.9"/>
<line x1="110.3" y1="698.6" x2="366.6" y2="698.6" stroke="#dcdcdc" stroke-width="0.9"/>
<line x1="110.3" y1="710.9" x2="366.6" y2="710.9" stroke="#dcdcdc" stroke-width="0.9"/>
<line x1="110.3" y1="723.2" x2="366.6" y2="723.2" stroke="#dcdcdc" stroke-width="0.9"/>
<line x1="110.3" y1="735.6" x2="366.6" y2="735.6" stroke="#dcdcdc" stroke-width="0.9"/>
<line x1="110.3" y1="747.9" x2="366.6" y2="747.9" stroke="#dcdcdc" stroke-width="0.9"/>
<line x1="110.3" y1="760.2" x2="366.6" y2="760.2" stroke="#dcdcdc" stroke-width="0.9"/>
<line x1="110.3" y1="772.6" x2="366.6" y2="772.6" stroke="#dcdcdc" stroke-width="0.9"/>
<line x1="110.3" y1="784.9" x2="366.6" y2="784.9" stroke="#dcdcdc" stroke-width="0.9"/>
<polygon points="110.3,784.9 110.3,681.9 113.6,681.9 116.8,684.0 120.6,684.0 124.5,686.2 127.1,689.5 129.9,698.2 133.2,694.9 136.5,692.8 140.2,689.5 143.0,698.2 146.3,700.4 149.5,701.5 153.9,701.5 157.2,704.7 160.4,705.8 163.7,712.4 167.0,704.7 169.2,709.1 172.4,708.0 175.7,703.6 177.9,706.9 180.1,698.9 183.3,702.5 186.6,705.8 189.8,704.7 193.1,705.8 196.4,704.7 199.7,705.8 202.9,704.3 206.2,704.7 209.5,703.6 212.1,700.4 214.9,690.6 217.1,687.3 219.3,696.0 222.5,697.1 225.2,699.3 228.6,693.8 231.3,696.0 233.0,701.5 235.6,710.2 238.9,700.4 241.1,710.2 244.3,710.2 247.6,715.6 249.6,724.4 252.9,732.0 255.1,735.2 258.3,730.9 262.7,725.4 266.0,730.9 268.1,737.4 271.4,736.3 273.6,735.2 276.9,736.3 280.1,737.4 283.4,736.3 286.7,737.4 289.9,735.2 293.2,740.7 296.5,744.0 298.6,746.1 300.8,737.4 304.1,734.1 307.4,736.3 310.6,742.9 313.9,741.8 317.2,747.2 319.4,741.8 321.5,733.1 325.9,734.1 329.1,737.4 332.4,736.3 335.7,737.4 339.0,735.2 342.2,736.3 345.5,734.1 347.7,738.5 350.9,735.2 354.2,737.4 356.4,739.6 358.6,726.5 360.8,730.9 362.9,735.2 365.1,734.1 366.6,734.1 366.6,784.9" fill="#ffc000"/>
<clipPath id="c5c"><polygon points="110.3,784.9 110.3,681.9 113.6,681.9 116.8,684.0 120.6,684.0 124.5,686.2 127.1,689.5 129.9,698.2 133.2,694.9 136.5,692.8 140.2,689.5 143.0,698.2 146.3,700.4 149.5,701.5 153.9,701.5 157.2,704.7 160.4,705.8 163.7,712.4 167.0,704.7 169.2,709.1 172.4,708.0 175.7,703.6 177.9,706.9 180.1,698.9 183.3,702.5 186.6,705.8 189.8,704.7 193.1,705.8 196.4,704.7 199.7,705.8 202.9,704.3 206.2,704.7 209.5,703.6 212.1,700.4 214.9,690.6 217.1,687.3 219.3,696.0 222.5,697.1 225.2,699.3 228.6,693.8 231.3,696.0 233.0,701.5 235.6,710.2 238.9,700.4 241.1,710.2 244.3,710.2 247.6,715.6 249.6,724.4 252.9,732.0 255.1,735.2 258.3,730.9 262.7,725.4 266.0,730.9 268.1,737.4 271.4,736.3 273.6,735.2 276.9,736.3 280.1,737.4 283.4,736.3 286.7,737.4 289.9,735.2 293.2,740.7 296.5,744.0 298.6,746.1 300.8,737.4 304.1,734.1 307.4,736.3 310.6,742.9 313.9,741.8 317.2,747.2 319.4,741.8 321.5,733.1 325.9,734.1 329.1,737.4 332.4,736.3 335.7,737.4 339.0,735.2 342.2,736.3 345.5,734.1 347.7,738.5 350.9,735.2 354.2,737.4 356.4,739.6 358.6,726.5 360.8,730.9 362.9,735.2 365.1,734.1 366.6,734.1 366.6,784.9"/></clipPath>
<g clip-path="url(#c5c)">
<rect x="112.5" y="661.6" width="1.1" height="123.3" fill="#fff" opacity="0.85"/>
<rect x="118.4" y="661.6" width="1.7" height="123.3" fill="#fff" opacity="0.85"/>
<rect x="127.1" y="661.6" width="1.3" height="123.3" fill="#fff" opacity="0.85"/>
<rect x="147.4" y="661.6" width="2.6" height="123.3" fill="#fff" opacity="0.85"/>
<rect x="176.8" y="661.6" width="0.7" height="123.3" fill="#fff" opacity="0.85"/>
<rect x="180.7" y="661.6" width="0.9" height="123.3" fill="#fff" opacity="0.85"/>
<rect x="191.6" y="661.6" width="2.2" height="123.3" fill="#fff" opacity="0.85"/>
<rect x="203.4" y="661.6" width="0.9" height="123.3" fill="#fff" opacity="0.85"/>
<rect x="206.2" y="661.6" width="1.1" height="123.3" fill="#fff" opacity="0.85"/>
<rect x="209.0" y="661.6" width="0.9" height="123.3" fill="#fff" opacity="0.85"/>
<rect x="219.9" y="661.6" width="1.1" height="123.3" fill="#fff" opacity="0.85"/>
<rect x="232.3" y="661.6" width="1.1" height="123.3" fill="#fff" opacity="0.85"/>
<rect x="235.0" y="661.6" width="1.1" height="123.3" fill="#fff" opacity="0.85"/>
<rect x="237.8" y="661.6" width="0.7" height="123.3" fill="#fff" opacity="0.85"/>
<rect x="233.3" y="661.6" width="1.1" height="123.3" fill="#fff" opacity="0.85"/>
<rect x="238.3" y="661.6" width="0.9" height="123.3" fill="#fff" opacity="0.85"/>
<rect x="240.9" y="661.6" width="0.9" height="123.3" fill="#fff" opacity="0.85"/>
<rect x="271.8" y="661.6" width="2.2" height="123.3" fill="#fff" opacity="0.85"/>
<rect x="282.3" y="661.6" width="1.7" height="123.3" fill="#fff" opacity="0.85"/>
<rect x="287.1" y="661.6" width="1.1" height="123.3" fill="#fff" opacity="0.85"/>
<rect x="300.8" y="661.6" width="1.1" height="123.3" fill="#fff" opacity="0.85"/>
<rect x="309.5" y="661.6" width="2.2" height="123.3" fill="#fff" opacity="0.85"/>
<rect x="313.9" y="661.6" width="1.1" height="123.3" fill="#fff" opacity="0.85"/>
<rect x="327.4" y="661.6" width="1.7" height="123.3" fill="#fff" opacity="0.85"/>
<rect x="337.9" y="661.6" width="1.7" height="123.3" fill="#fff" opacity="0.85"/>
<rect x="352.0" y="661.6" width="1.3" height="123.3" fill="#fff" opacity="0.85"/>
<rect x="355.3" y="661.6" width="1.5" height="123.3" fill="#fff" opacity="0.85"/>
<rect x="361.8" y="661.6" width="1.1" height="123.3" fill="#fff" opacity="0.85"/>
<rect x="364.0" y="661.6" width="1.1" height="123.3" fill="#fff" opacity="0.85"/>
</g>
<polyline points="110.3,728.7 113.6,727.6 116.8,727.0 121.2,728.3 124.5,728.7 127.1,724.4 128.8,723.9 130.4,715.6 132.1,720.0 135.4,722.6 138.6,723.3 141.9,717.8 145.2,721.1 148.4,720.6 151.7,718.9 156.1,720.0 159.3,718.9 162.6,716.7 164.8,714.5 168.1,717.4 171.3,714.5 174.6,714.5 177.9,713.5 180.1,712.4 183.3,715.2 186.6,715.6 189.8,716.1 192.5,718.9 195.3,722.2 198.6,725.4 201.8,724.4 205.1,723.9 207.7,726.5 209.9,730.9 212.1,735.2 214.3,746.1 216.4,751.6 219.3,758.1 222.5,761.0 225.8,761.4 229.1,761.8 232.3,761.0 235.2,758.8 237.8,760.3 241.1,759.2 242.6,754.4 245.4,754.9 247.6,749.4 248.5,749.4 251.8,747.9 255.1,742.9 257.2,740.7 260.5,741.8 263.8,736.3 267.1,739.6 270.3,735.7 273.6,736.3 276.9,737.0 280.1,735.2 284.5,737.4 287.8,736.3 291.0,735.7 294.3,734.1 297.6,734.8 300.8,737.0 304.1,735.2 307.4,737.0 310.6,735.7 313.9,737.0 317.2,734.1 320.4,736.3 323.7,738.5 327.6,741.8 330.2,740.0 333.5,738.5 336.8,737.0 340.1,735.2 342.2,734.1 345.5,730.2 348.8,727.6 352.0,727.6 355.3,725.4 358.6,723.3 360.8,720.6 362.9,718.9 365.1,721.1 366.6,721.1" fill="none" stroke="#42ad9d" stroke-width="2.2" stroke-linejoin="round"/>
<polyline points="110.3,686.9 113.6,686.2 116.8,687.3 121.2,688.0 125.6,688.0 128.4,686.2 129.9,680.8 131.4,685.1 135.4,686.9 138.6,687.3 141.9,684.7 145.2,687.3 148.4,688.0 151.7,686.2 156.1,688.0 159.3,686.9 162.6,686.9 167.0,686.2 170.2,684.7 173.5,683.4 176.8,682.9 179.4,678.6 182.2,680.8 184.4,680.1 187.7,684.0 190.9,684.0 194.2,689.5 197.5,693.8 200.8,693.8 204.7,691.7 207.3,692.8 209.5,698.9 211.7,698.2 213.8,711.3 216.0,710.2 218.2,717.8 221.4,723.3 224.7,728.7 226.9,724.4 230.2,725.4 233.4,726.5 235.6,729.4 238.9,727.6 242.2,723.9 245.4,726.5 247.6,722.8 248.5,722.2 251.8,726.1 255.1,721.1 257.2,717.8 260.5,720.0 263.1,713.5 266.0,716.7 269.2,718.5 272.5,717.8 275.8,718.2 280.1,716.7 284.5,718.5 287.8,717.4 291.0,716.1 294.3,717.4 297.6,717.8 299.7,716.1 303.0,717.4 306.3,716.1 309.5,718.9 312.8,720.4 316.1,719.5 318.3,718.9 321.5,716.1 324.8,717.8 327.6,721.5 330.2,720.6 332.4,718.9 335.7,717.4 339.0,715.6 342.2,715.2 344.4,711.7 347.7,711.3 349.9,708.0 352.0,709.1 355.3,708.0 357.5,704.7 359.7,699.3 362.9,699.9 365.1,700.4 366.6,699.3" fill="none" stroke="#1c3653" stroke-width="2.2" stroke-linejoin="round"/>
<line x1="110.3" y1="784.9" x2="110.3" y2="787.5" stroke="#dcdcdc" stroke-width="0.9"/>
<line x1="125.0" y1="784.9" x2="125.0" y2="787.5" stroke="#dcdcdc" stroke-width="0.9"/>
<line x1="139.7" y1="784.9" x2="139.7" y2="787.5" stroke="#dcdcdc" stroke-width="0.9"/>
<line x1="154.3" y1="784.9" x2="154.3" y2="787.5" stroke="#dcdcdc" stroke-width="0.9"/>
<line x1="169.0" y1="784.9" x2="169.0" y2="787.5" stroke="#dcdcdc" stroke-width="0.9"/>
<line x1="183.7" y1="784.9" x2="183.7" y2="787.5" stroke="#dcdcdc" stroke-width="0.9"/>
<line x1="198.4" y1="784.9" x2="198.4" y2="787.5" stroke="#dcdcdc" stroke-width="0.9"/>
<line x1="213.1" y1="784.9" x2="213.1" y2="787.5" stroke="#dcdcdc" stroke-width="0.9"/>
<line x1="227.7" y1="784.9" x2="227.7" y2="787.5" stroke="#dcdcdc" stroke-width="0.9"/>
<line x1="242.4" y1="784.9" x2="242.4" y2="787.5" stroke="#dcdcdc" stroke-width="0.9"/>
<line x1="257.1" y1="784.9" x2="257.1" y2="787.5" stroke="#dcdcdc" stroke-width="0.9"/>
<line x1="271.8" y1="784.9" x2="271.8" y2="787.5" stroke="#dcdcdc" stroke-width="0.9"/>
<line x1="286.5" y1="784.9" x2="286.5" y2="787.5" stroke="#dcdcdc" stroke-width="0.9"/>
<line x1="301.1" y1="784.9" x2="301.1" y2="787.5" stroke="#dcdcdc" stroke-width="0.9"/>
<line x1="315.8" y1="784.9" x2="315.8" y2="787.5" stroke="#dcdcdc" stroke-width="0.9"/>
<line x1="330.5" y1="784.9" x2="330.5" y2="787.5" stroke="#dcdcdc" stroke-width="0.9"/>
<line x1="345.2" y1="784.9" x2="345.2" y2="787.5" stroke="#dcdcdc" stroke-width="0.9"/>
<line x1="359.9" y1="784.9" x2="359.9" y2="787.5" stroke="#dcdcdc" stroke-width="0.9"/>
<text class="c" x="99.8" y="664.7" font-size="8.0" text-anchor="end">1000</text>
<text class="c" x="99.8" y="677.1" font-size="8.0" text-anchor="end">900</text>
<text class="c" x="99.8" y="689.4" font-size="8.0" text-anchor="end">800</text>
<text class="c" x="99.8" y="701.7" font-size="8.0" text-anchor="end">700</text>
<text class="c" x="99.8" y="714.0" font-size="8.0" text-anchor="end">600</text>
<text class="c" x="99.8" y="726.4" font-size="8.0" text-anchor="end">500</text>
<text class="c" x="99.8" y="738.7" font-size="8.0" text-anchor="end">400</text>
<text class="c" x="99.8" y="751.0" font-size="8.0" text-anchor="end">300</text>
<text class="c" x="99.8" y="763.4" font-size="8.0" text-anchor="end">200</text>
<text class="c" x="99.8" y="775.7" font-size="8.0" text-anchor="end">100</text>
<text class="c" x="99.8" y="788.0" font-size="8.0" text-anchor="end">0</text>
<text class="c" x="372.7" y="664.7" font-size="8.0" text-anchor="start">400</text>
<text class="c" x="372.7" y="680.1" font-size="8.0" text-anchor="start">350</text>
<text class="c" x="372.7" y="695.5" font-size="8.0" text-anchor="start">300</text>
<text class="c" x="372.7" y="711.0" font-size="8.0" text-anchor="start">250</text>
<text class="c" x="372.7" y="726.4" font-size="8.0" text-anchor="start">200</text>
<text class="c" x="372.7" y="741.8" font-size="8.0" text-anchor="start">150</text>
<text class="c" x="372.7" y="757.2" font-size="8.0" text-anchor="start">100</text>
<text class="c" x="372.7" y="772.6" font-size="8.0" text-anchor="start">50</text>
<text class="c" x="372.7" y="788.0" font-size="8.0" text-anchor="start">0</text>
<text class="c" transform="translate(111.8,794.9) rotate(-45)" x="-32.0" font-size="8.0" textLength="32.0">19/08/07</text>
<text class="c" transform="translate(126.5,794.9) rotate(-45)" x="-32.0" font-size="8.0" textLength="32.0">19/09/07</text>
<text class="c" transform="translate(141.2,794.9) rotate(-45)" x="-32.0" font-size="8.0" textLength="32.0">19/10/07</text>
<text class="c" transform="translate(155.8,794.9) rotate(-45)" x="-32.0" font-size="8.0" textLength="32.0">19/11/07</text>
<text class="c" transform="translate(170.5,794.9) rotate(-45)" x="-32.0" font-size="8.0" textLength="32.0">19/12/07</text>
<text class="c" transform="translate(185.2,794.9) rotate(-45)" x="-32.0" font-size="8.0" textLength="32.0">20/01/07</text>
<text class="c" transform="translate(199.9,794.9) rotate(-45)" x="-32.0" font-size="8.0" textLength="32.0">20/02/07</text>
<text class="c" transform="translate(214.6,794.9) rotate(-45)" x="-32.0" font-size="8.0" textLength="32.0">20/03/07</text>
<text class="c" transform="translate(229.2,794.9) rotate(-45)" x="-32.0" font-size="8.0" textLength="32.0">20/04/07</text>
<text class="c" transform="translate(243.9,794.9) rotate(-45)" x="-32.0" font-size="8.0" textLength="32.0">20/05/07</text>
<text class="c" transform="translate(258.6,794.9) rotate(-45)" x="-32.0" font-size="8.0" textLength="32.0">20/06/07</text>
<text class="c" transform="translate(273.3,794.9) rotate(-45)" x="-32.0" font-size="8.0" textLength="32.0">20/07/07</text>
<text class="c" transform="translate(288.0,794.9) rotate(-45)" x="-32.0" font-size="8.0" textLength="32.0">20/08/07</text>
<text class="c" transform="translate(302.6,794.9) rotate(-45)" x="-32.0" font-size="8.0" textLength="32.0">20/09/07</text>
<text class="c" transform="translate(317.3,794.9) rotate(-45)" x="-32.0" font-size="8.0" textLength="32.0">20/10/07</text>
<text class="c" transform="translate(332.0,794.9) rotate(-45)" x="-32.0" font-size="8.0" textLength="32.0">20/11/07</text>
<text class="c" transform="translate(346.7,794.9) rotate(-45)" x="-32.0" font-size="8.0" textLength="32.0">20/12/07</text>
<text class="c" transform="translate(361.4,794.9) rotate(-45)" x="-32.0" font-size="8.0" textLength="32.0">21/01/07</text>
<text class="c" x="92.0" y="654.8" font-size="8.0" text-anchor="start">美元</text>
<rect x="118" y="643.6" width="15.2" height="4.6" fill="#ffc000"/>
<text class="c" x="134.7" y="649.0" font-size="8.0" text-anchor="start" textLength="52.3">PX-石脑油价差</text>
<line x1="200.3" y1="646.0" x2="215.0" y2="646.0" stroke="#1c3653" stroke-width="2.2" stroke-linecap="round"/>
<text class="c" x="216.4" y="649.0" font-size="8.0" text-anchor="start" textLength="56.5">PX:CFR中国台湾</text>
<line x1="286.2" y1="646.0" x2="301.0" y2="646.0" stroke="#42ad9d" stroke-width="2.2" stroke-linecap="round"/>
<text class="c" x="302.6" y="649.0" font-size="8.0" text-anchor="start" textLength="56.0">石脑油:CFR日本</text>
<line x1="467.5" y1="657.9" x2="709.9" y2="657.9" stroke="#dcdcdc" stroke-width="0.9"/>
<line x1="467.5" y1="679.2" x2="709.9" y2="679.2" stroke="#dcdcdc" stroke-width="0.9"/>
<line x1="467.5" y1="700.5" x2="709.9" y2="700.5" stroke="#dcdcdc" stroke-width="0.9"/>
<line x1="467.5" y1="721.8" x2="709.9" y2="721.8" stroke="#dcdcdc" stroke-width="0.9"/>
<line x1="467.5" y1="743.2" x2="709.9" y2="743.2" stroke="#dcdcdc" stroke-width="0.9"/>
<line x1="467.5" y1="764.5" x2="709.9" y2="764.5" stroke="#dcdcdc" stroke-width="0.9"/>
<line x1="467.5" y1="785.8" x2="709.9" y2="785.8" stroke="#dcdcdc" stroke-width="0.9"/>
<polyline points="467.5,718.9 470.3,720.0 473.6,720.4 476.9,720.6 480.1,720.0 482.7,715.6 485.6,716.7 487.8,712.4 491.0,713.0 493.2,711.3 496.5,713.5 499.7,712.4 503.4,710.2 506.3,714.5 509.5,716.7 512.8,715.6 516.1,713.9 518.3,711.7 521.5,713.0 524.8,713.5 528.1,710.2 530.2,709.1 532.4,704.7 534.6,691.7 536.8,678.6 538.3,668.8 541.1,668.1 542.9,687.3 546.6,684.0 549.4,694.9 552.0,698.2 554.2,700.4 556.4,708.0 558.6,701.5 560.8,704.7 562.9,709.1 566.2,703.6 569.5,701.5 572.7,704.7 574.9,700.4 578.2,704.7 580.4,701.5 582.5,702.5 585.8,700.8 589.1,702.5 591.3,713.5 594.5,715.6 596.7,710.2 598.5,699.3 601.1,704.7 603.2,714.5 605.4,720.4 607.6,718.9 608.5,718.9 611.8,720.4 615.1,720.6 618.3,721.1 621.6,723.9 624.9,725.4 629.2,724.4 633.6,723.9 636.9,724.4 639.0,727.6 641.2,730.9 644.5,730.9 647.1,736.3 649.3,741.8 652.1,746.1 654.3,742.9 656.0,748.3 658.6,744.0 661.9,740.7 665.2,739.6 668.5,740.7 671.7,741.3 675.0,741.8 678.3,740.2 681.5,741.3 684.8,742.2 688.1,744.6 691.3,742.9 694.6,747.2 697.9,745.0 701.1,742.2 703.3,740.2 705.5,739.6 707.7,737.4 709.9,737.0" fill="none" stroke="#42ad9d" stroke-width="2.2" stroke-linejoin="round"/>
<polyline points="467.5,717.8 470.3,716.7 473.6,716.7 476.9,716.1 480.1,715.2 482.3,710.8 485.6,710.2 488.8,708.7 492.1,706.9 495.4,705.2 498.6,703.0 501.9,701.5 504.1,700.4 507.4,702.1 510.6,702.5 513.9,699.9 517.2,698.2 520.4,696.7 523.7,696.0 527.0,696.0 530.2,696.0 532.4,693.8 534.6,687.3 536.8,681.9 539.0,674.2 540.5,671.0 542.2,675.3 545.5,675.3 547.7,676.4 549.9,684.0 552.0,689.5 554.2,691.7 556.4,694.9 559.7,694.3 562.9,699.3 566.2,698.2 569.5,696.0 572.7,695.6 576.0,694.3 579.3,696.5 582.5,695.6 585.8,695.6 589.1,698.2 592.4,703.6 595.6,709.1 598.9,700.4 602.1,702.5 604.3,709.1 607.6,712.4 608.5,711.7 611.8,716.1 615.1,716.7 618.3,716.1 621.6,717.8 624.9,720.0 629.2,720.4 633.6,718.5 636.9,720.0 639.0,722.2 641.2,726.5 644.5,726.5 647.1,729.8 649.3,736.3 652.1,741.8 654.3,741.3 656.5,743.5 659.7,740.7 663.0,738.5 666.3,737.0 669.5,737.4 672.8,737.9 676.1,737.4 679.4,736.3 682.6,737.4 685.9,737.4 688.1,739.6 691.3,737.9 694.6,741.8 697.9,738.5 701.1,736.3 703.3,734.8 705.5,735.2 707.0,726.5 709.9,726.5" fill="none" stroke="#1c3653" stroke-width="2.2" stroke-linejoin="round"/>
<line x1="467.5" y1="785.8" x2="467.5" y2="788.4" stroke="#dcdcdc" stroke-width="0.9"/>
<line x1="479.4" y1="785.8" x2="479.4" y2="788.4" stroke="#dcdcdc" stroke-width="0.9"/>
<line x1="491.4" y1="785.8" x2="491.4" y2="788.4" stroke="#dcdcdc" stroke-width="0.9"/>
<line x1="503.3" y1="785.8" x2="503.3" y2="788.4" stroke="#dcdcdc" stroke-width="0.9"/>
<line x1="515.3" y1="785.8" x2="515.3" y2="788.4" stroke="#dcdcdc" stroke-width="0.9"/>
<line x1="527.2" y1="785.8" x2="527.2" y2="788.4" stroke="#dcdcdc" stroke-width="0.9"/>
<line x1="539.1" y1="785.8" x2="539.1" y2="788.4" stroke="#dcdcdc" stroke-width="0.9"/>
<line x1="551.1" y1="785.8" x2="551.1" y2="788.4" stroke="#dcdcdc" stroke-width="0.9"/>
<line x1="563.0" y1="785.8" x2="563.0" y2="788.4" stroke="#dcdcdc" stroke-width="0.9"/>
<line x1="575.0" y1="785.8" x2="575.0" y2="788.4" stroke="#dcdcdc" stroke-width="0.9"/>
<line x1="586.9" y1="785.8" x2="586.9" y2="788.4" stroke="#dcdcdc" stroke-width="0.9"/>
<line x1="598.8" y1="785.8" x2="598.8" y2="788.4" stroke="#dcdcdc" stroke-width="0.9"/>
<line x1="610.8" y1="785.8" x2="610.8" y2="788.4" stroke="#dcdcdc" stroke-width="0.9"/>
<line x1="622.7" y1="785.8" x2="622.7" y2="788.4" stroke="#dcdcdc" stroke-width="0.9"/>
<line x1="634.7" y1="785.8" x2="634.7" y2="788.4" stroke="#dcdcdc" stroke-width="0.9"/>
<line x1="646.6" y1="785.8" x2="646.6" y2="788.4" stroke="#dcdcdc" stroke-width="0.9"/>
<line x1="658.5" y1="785.8" x2="658.5" y2="788.4" stroke="#dcdcdc" stroke-width="0.9"/>
<line x1="670.5" y1="785.8" x2="670.5" y2="788.4" stroke="#dcdcdc" stroke-width="0.9"/>
<line x1="682.4" y1="785.8" x2="682.4" y2="788.4" stroke="#dcdcdc" stroke-width="0.9"/>
<line x1="694.4" y1="785.8" x2="694.4" y2="788.4" stroke="#dcdcdc" stroke-width="0.9"/>
<line x1="706.3" y1="785.8" x2="706.3" y2="788.4" stroke="#dcdcdc" stroke-width="0.9"/>
<text class="c" x="456.5" y="661.0" font-size="8.0" text-anchor="end">1200</text>
<text class="c" x="456.5" y="682.3" font-size="8.0" text-anchor="end">1000</text>
<text class="c" x="456.5" y="703.7" font-size="8.0" text-anchor="end">800</text>
<text class="c" x="456.5" y="725.0" font-size="8.0" text-anchor="end">600</text>
<text class="c" x="456.5" y="746.3" font-size="8.0" text-anchor="end">400</text>
<text class="c" x="456.5" y="767.6" font-size="8.0" text-anchor="end">200</text>
<text class="c" x="456.5" y="788.9" font-size="8.0" text-anchor="end">0</text>
<text class="c" x="717.0" y="661.0" font-size="8.0" text-anchor="start">10000</text>
<text class="c" x="717.0" y="673.8" font-size="8.0" text-anchor="start">9000</text>
<text class="c" x="717.0" y="686.6" font-size="8.0" text-anchor="start">8000</text>
<text class="c" x="717.0" y="699.4" font-size="8.0" text-anchor="start">7000</text>
<text class="c" x="717.0" y="712.2" font-size="8.0" text-anchor="start">6000</text>
<text class="c" x="717.0" y="725.0" font-size="8.0" text-anchor="start">5000</text>
<text class="c" x="717.0" y="737.8" font-size="8.0" text-anchor="start">4000</text>
<text class="c" x="717.0" y="750.5" font-size="8.0" text-anchor="start">3000</text>
<text class="c" x="717.0" y="763.3" font-size="8.0" text-anchor="start">2000</text>
<text class="c" x="717.0" y="776.1" font-size="8.0" text-anchor="start">1000</text>
<text class="c" x="717.0" y="788.9" font-size="8.0" text-anchor="start">0</text>
<text class="c" transform="translate(470.8,792.4) rotate(-90)" x="-32.0" font-size="8.0" textLength="32.0">17/08/28</text>
<text class="c" transform="translate(482.7,792.4) rotate(-90)" x="-32.0" font-size="8.0" textLength="32.0">17/10/28</text>
<text class="c" transform="translate(494.7,792.4) rotate(-90)" x="-32.0" font-size="8.0" textLength="32.0">17/12/28</text>
<text class="c" transform="translate(506.6,792.4) rotate(-90)" x="-32.0" font-size="8.0" textLength="32.0">18/02/28</text>
<text class="c" transform="translate(518.6,792.4) rotate(-90)" x="-32.0" font-size="8.0" textLength="32.0">18/04/30</text>
<text class="c" transform="translate(530.5,792.4) rotate(-90)" x="-32.0" font-size="8.0" textLength="32.0">18/06/30</text>
<text class="c" transform="translate(542.4,792.4) rotate(-90)" x="-32.0" font-size="8.0" textLength="32.0">18/08/31</text>
<text class="c" transform="translate(554.4,792.4) rotate(-90)" x="-32.0" font-size="8.0" textLength="32.0">18/10/31</text>
<text class="c" transform="translate(566.3,792.4) rotate(-90)" x="-32.0" font-size="8.0" textLength="32.0">18/12/31</text>
<text class="c" transform="translate(578.3,792.4) rotate(-90)" x="-32.0" font-size="8.0" textLength="32.0">19/02/28</text>
<text class="c" transform="translate(590.2,792.4) rotate(-90)" x="-32.0" font-size="8.0" textLength="32.0">19/04/30</text>
<text class="c" transform="translate(602.1,792.4) rotate(-90)" x="-32.0" font-size="8.0" textLength="32.0">19/06/30</text>
<text class="c" transform="translate(614.1,792.4) rotate(-90)" x="-32.0" font-size="8.0" textLength="32.0">19/08/31</text>
<text class="c" transform="translate(626.0,792.4) rotate(-90)" x="-32.0" font-size="8.0" textLength="32.0">19/10/31</text>
<text class="c" transform="translate(638.0,792.4) rotate(-90)" x="-32.0" font-size="8.0" textLength="32.0">19/12/31</text>
<text class="c" transform="translate(649.9,792.4) rotate(-90)" x="-32.0" font-size="8.0" textLength="32.0">20/02/29</text>
<text class="c" transform="translate(661.8,792.4) rotate(-90)" x="-32.0" font-size="8.0" textLength="32.0">20/04/30</text>
<text class="c" transform="translate(673.8,792.4) rotate(-90)" x="-32.0" font-size="8.0" textLength="32.0">20/06/30</text>
<text class="c" transform="translate(685.7,792.4) rotate(-90)" x="-32.0" font-size="8.0" textLength="32.0">20/08/31</text>
<text class="c" transform="translate(697.7,792.4) rotate(-90)" x="-32.0" font-size="8.0" textLength="32.0">20/10/31</text>
<text class="c" transform="translate(709.6,792.4) rotate(-90)" x="-32.0" font-size="8.0" textLength="32.0">20/12/31</text>
<text class="c" x="443.5" y="652.8" font-size="8.0" text-anchor="start">美元</text>
<line x1="553.0" y1="644.8" x2="569.0" y2="644.8" stroke="#1c3653" stroke-width="2.2" stroke-linecap="round"/>
<text class="c" x="572.0" y="648.0" font-size="8.0" text-anchor="start">外盘</text>
<line x1="596.0" y1="644.8" x2="612.0" y2="644.8" stroke="#42ad9d" stroke-width="2.2" stroke-linecap="round"/>
<text class="c" x="614.6" y="648.0" font-size="8.0" text-anchor="start">内盘</text>
<text class="c" x="729.0" y="653.8" font-size="8.0" text-anchor="start">元</text>
<line x1="115.3" y1="906.4" x2="380.8" y2="906.4" stroke="#dcdcdc" stroke-width="0.9"/>
<line x1="115.3" y1="923.3" x2="380.8" y2="923.3" stroke="#dcdcdc" stroke-width="0.9"/>
<line x1="115.3" y1="940.2" x2="380.8" y2="940.2" stroke="#dcdcdc" stroke-width="0.9"/>
<line x1="115.3" y1="957.1" x2="380.8" y2="957.1" stroke="#dcdcdc" stroke-width="0.9"/>
<line x1="115.3" y1="974.0" x2="380.8" y2="974.0" stroke="#dcdcdc" stroke-width="0.9"/>
<line x1="115.3" y1="990.8" x2="380.8" y2="990.8" stroke="#dcdcdc" stroke-width="0.9"/>
<line x1="115.3" y1="1007.7" x2="380.8" y2="1007.7" stroke="#dcdcdc" stroke-width="0.9"/>
<line x1="115.3" y1="1024.6" x2="380.8" y2="1024.6" stroke="#dcdcdc" stroke-width="0.9"/>
<line x1="115.3" y1="1041.5" x2="380.8" y2="1041.5" stroke="#dcdcdc" stroke-width="0.9"/>
<polyline points="115.3,1030.6 119.0,1033.2 122.3,1034.3 124.5,1035.8 125.6,1033.6 127.8,1035.8 129.3,1037.1 130.4,1041.5 133.2,1041.0 137.6,1040.6 141.9,1040.6 145.2,1041.0 148.4,1040.2 152.4,1040.2 153.9,1035.4 156.1,1034.3 158.3,1034.9 160.4,1036.9 163.7,1037.5 168.1,1038.2 172.4,1038.0 175.7,1038.4 179.0,1037.1 182.2,1036.0 185.5,1033.6 189.4,1030.6 192.0,1030.6 195.3,1031.4 198.6,1031.4 201.8,1032.1 205.1,1031.4 207.7,1027.7 210.6,1021.2 212.7,1012.5 214.9,1007.0 217.1,1001.6 219.3,998.3 222.5,996.1 225.8,994.4 229.1,993.5 232.3,992.4 235.6,990.7 238.9,989.2 241.1,985.2 243.2,982.0 245.4,977.6 247.6,976.5 249.2,972.2 251.4,965.6 254.0,962.4 257.2,962.4 260.5,963.0 262.2,965.6 266.0,965.2 269.2,966.1 273.6,966.3 276.9,967.1 280.6,967.4 282.3,970.6 285.6,972.6 288.8,974.4 292.1,978.3 295.4,986.3 298.6,989.0 303.0,991.1 306.3,995.0 308.0,1002.7 309.5,1011.4 311.1,1017.9 312.8,1028.8 315.0,1033.2 316.1,1040.8 317.8,1040.8 319.4,1029.9 322.0,1021.9 324.1,1020.1 327.0,1017.5 329.1,1011.4 331.3,1004.9 334.6,998.8 337.2,994.0 340.1,991.3 342.2,985.2 344.4,978.7 347.7,971.1 350.9,963.5 354.2,956.9 356.4,950.4 358.6,943.8 361.8,940.6 365.1,936.2 368.4,930.8 370.6,927.5 373.8,923.1 376.0,919.9 378.2,918.1 380.8,917.2" fill="none" stroke="#f7c331" stroke-width="2" stroke-linejoin="round"/>
<line x1="115.3" y1="1041.5" x2="115.3" y2="1044.1" stroke="#dcdcdc" stroke-width="0.9"/>
<line x1="130.9" y1="1041.5" x2="130.9" y2="1044.1" stroke="#dcdcdc" stroke-width="0.9"/>
<line x1="146.6" y1="1041.5" x2="146.6" y2="1044.1" stroke="#dcdcdc" stroke-width="0.9"/>
<line x1="162.2" y1="1041.5" x2="162.2" y2="1044.1" stroke="#dcdcdc" stroke-width="0.9"/>
<line x1="177.8" y1="1041.5" x2="177.8" y2="1044.1" stroke="#dcdcdc" stroke-width="0.9"/>
<line x1="193.4" y1="1041.5" x2="193.4" y2="1044.1" stroke="#dcdcdc" stroke-width="0.9"/>
<line x1="209.1" y1="1041.5" x2="209.1" y2="1044.1" stroke="#dcdcdc" stroke-width="0.9"/>
<line x1="224.7" y1="1041.5" x2="224.7" y2="1044.1" stroke="#dcdcdc" stroke-width="0.9"/>
<line x1="240.3" y1="1041.5" x2="240.3" y2="1044.1" stroke="#dcdcdc" stroke-width="0.9"/>
<line x1="256.0" y1="1041.5" x2="256.0" y2="1044.1" stroke="#dcdcdc" stroke-width="0.9"/>
<line x1="271.6" y1="1041.5" x2="271.6" y2="1044.1" stroke="#dcdcdc" stroke-width="0.9"/>
<line x1="287.2" y1="1041.5" x2="287.2" y2="1044.1" stroke="#dcdcdc" stroke-width="0.9"/>
<line x1="302.9" y1="1041.5" x2="302.9" y2="1044.1" stroke="#dcdcdc" stroke-width="0.9"/>
<line x1="318.5" y1="1041.5" x2="318.5" y2="1044.1" stroke="#dcdcdc" stroke-width="0.9"/>
<line x1="334.1" y1="1041.5" x2="334.1" y2="1044.1" stroke="#dcdcdc" stroke-width="0.9"/>
<line x1="349.8" y1="1041.5" x2="349.8" y2="1044.1" stroke="#dcdcdc" stroke-width="0.9"/>
<line x1="365.4" y1="1041.5" x2="365.4" y2="1044.1" stroke="#dcdcdc" stroke-width="0.9"/>
<line x1="381.0" y1="1041.5" x2="381.0" y2="1044.1" stroke="#dcdcdc" stroke-width="0.9"/>
<text class="c" x="106.0" y="909.2" font-size="7.3" text-anchor="end">400000</text>
<text class="c" x="106.0" y="926.1" font-size="7.3" text-anchor="end">350000</text>
<text class="c" x="106.0" y="943.0" font-size="7.3" text-anchor="end">300000</text>
<text class="c" x="106.0" y="959.9" font-size="7.3" text-anchor="end">250000</text>
<text class="c" x="106.0" y="976.8" font-size="7.3" text-anchor="end">200000</text>
<text class="c" x="106.0" y="993.7" font-size="7.3" text-anchor="end">150000</text>
<text class="c" x="106.0" y="1010.6" font-size="7.3" text-anchor="end">100000</text>
<text class="c" x="106.0" y="1027.5" font-size="7.3" text-anchor="end">50000</text>
<text class="c" x="106.0" y="1044.3" font-size="7.3" text-anchor="end">0</text>
<text class="c" transform="translate(116.3,1049.0) rotate(-45)" x="-29.2" font-size="7.3" textLength="29.2">19/08/22</text>
<text class="c" transform="translate(131.9,1049.0) rotate(-45)" x="-29.2" font-size="7.3" textLength="29.2">19/09/22</text>
<text class="c" transform="translate(147.6,1049.0) rotate(-45)" x="-29.2" font-size="7.3" textLength="29.2">19/10/22</text>
<text class="c" transform="translate(163.2,1049.0) rotate(-45)" x="-29.2" font-size="7.3" textLength="29.2">19/11/22</text>
<text class="c" transform="translate(178.8,1049.0) rotate(-45)" x="-29.2" font-size="7.3" textLength="29.2">19/12/22</text>
<text class="c" transform="translate(194.4,1049.0) rotate(-45)" x="-29.2" font-size="7.3" textLength="29.2">20/01/22</text>
<text class="c" transform="translate(210.1,1049.0) rotate(-45)" x="-29.2" font-size="7.3" textLength="29.2">20/02/22</text>
<text class="c" transform="translate(225.7,1049.0) rotate(-45)" x="-29.2" font-size="7.3" textLength="29.2">20/03/22</text>
<text class="c" transform="translate(241.3,1049.0) rotate(-45)" x="-29.2" font-size="7.3" textLength="29.2">20/04/22</text>
<text class="c" transform="translate(257.0,1049.0) rotate(-45)" x="-29.2" font-size="7.3" textLength="29.2">20/05/22</text>
<text class="c" transform="translate(272.6,1049.0) rotate(-45)" x="-29.2" font-size="7.3" textLength="29.2">20/06/22</text>
<text class="c" transform="translate(288.2,1049.0) rotate(-45)" x="-29.2" font-size="7.3" textLength="29.2">20/07/22</text>
<text class="c" transform="translate(303.9,1049.0) rotate(-45)" x="-29.2" font-size="7.3" textLength="29.2">20/08/22</text>
<text class="c" transform="translate(319.5,1049.0) rotate(-45)" x="-29.2" font-size="7.3" textLength="29.2">20/09/22</text>
<text class="c" transform="translate(335.1,1049.0) rotate(-45)" x="-29.2" font-size="7.3" textLength="29.2">20/10/22</text>
<text class="c" transform="translate(350.8,1049.0) rotate(-45)" x="-29.2" font-size="7.3" textLength="29.2">20/11/22</text>
<text class="c" transform="translate(366.4,1049.0) rotate(-45)" x="-29.2" font-size="7.3" textLength="29.2">20/12/22</text>
<text class="c" x="87.2" y="901.2" font-size="6.2" text-anchor="start">张</text>
<line x1="207.3" y1="893.7" x2="221.5" y2="893.7" stroke="#f7c331" stroke-width="2" stroke-linecap="round"/>
<text class="c" x="223.6" y="896.2" font-size="7.3" text-anchor="start" textLength="44.5">仓单数量:PTA</text>
<line x1="461.6" y1="909.4" x2="735.3" y2="909.4" stroke="#dcdcdc" stroke-width="0.9"/>
<line x1="461.6" y1="922.2" x2="735.3" y2="922.2" stroke="#dcdcdc" stroke-width="0.9"/>
<line x1="461.6" y1="934.9" x2="735.3" y2="934.9" stroke="#dcdcdc" stroke-width="0.9"/>
<line x1="461.6" y1="947.7" x2="735.3" y2="947.7" stroke="#dcdcdc" stroke-width="0.9"/>
<line x1="461.6" y1="960.5" x2="735.3" y2="960.5" stroke="#dcdcdc" stroke-width="0.9"/>
<line x1="461.6" y1="973.2" x2="735.3" y2="973.2" stroke="#dcdcdc" stroke-width="0.9"/>
<line x1="461.6" y1="986.0" x2="735.3" y2="986.0" stroke="#dcdcdc" stroke-width="0.9"/>
<line x1="461.6" y1="998.8" x2="735.3" y2="998.8" stroke="#dcdcdc" stroke-width="0.9"/>
<line x1="461.6" y1="1011.6" x2="735.3" y2="1011.6" stroke="#dcdcdc" stroke-width="0.9"/>
<line x1="461.6" y1="1024.3" x2="735.3" y2="1024.3" stroke="#dcdcdc" stroke-width="0.9"/>
<line x1="461.6" y1="1037.1" x2="735.3" y2="1037.1" stroke="#dcdcdc" stroke-width="0.9"/>
<polyline points="461.6,1011.6 471.4,1011.6 472.9,1017.9 474.7,1011.6 481.2,1011.6 482.3,1017.9 483.8,1017.9 485.1,1005.3 487.1,1005.3 488.2,1011.6 489.5,1011.6 491.0,1005.3 492.5,1024.5 493.9,1011.6 495.4,1017.9 496.9,1011.6 498.6,1011.6 500.2,1017.9 501.5,1024.5 503.0,1011.6 504.5,1017.9 505.8,1011.6 508.9,1011.6 510.2,1017.9 511.7,1011.6 516.5,1011.6 517.8,992.4 519.4,992.4 520.9,998.8 522.2,992.4 523.7,973.3 525.2,973.3 527.0,979.8 528.1,986.1 531.3,986.1 532.9,979.8 534.2,986.1 535.7,986.1 537.2,992.4 538.5,986.1 540.0,979.8 541.6,986.1 542.9,992.4 544.4,1005.3 545.9,1005.3 547.7,1017.9 550.5,1017.9 552.0,1005.3 553.6,992.4 554.9,998.8 558.6,998.8 560.1,992.4 561.4,992.4 562.5,986.1 563.8,998.8 565.1,992.4 566.9,992.4 568.4,986.1 572.7,986.1 574.3,998.8 578.8,998.8 580.4,992.4 581.9,998.8 583.2,986.1 584.7,973.3 586.5,979.8 589.1,979.8 591.1,992.4 592.2,992.4 593.7,1005.3 595.0,1005.3 596.5,992.4 598.1,992.4 599.8,986.1 601.3,983.1 602.6,979.8 604.4,979.8 605.9,986.1 607.9,998.8 610.7,998.8 612.2,1005.3 614.0,1005.3 615.7,1017.9 617.5,1024.5 619.0,1017.9 620.5,1011.6 628.1,1011.6 629.2,1005.3 631.0,1005.3 632.5,1011.6 634.7,1005.3 636.9,1005.3 638.6,1011.6 640.1,1011.6 641.2,1005.3 642.7,1011.6 644.5,1011.6 646.0,1005.3 647.8,1005.3 649.3,998.8 653.2,998.8 654.7,989.6 656.5,992.4 658.0,972.2 659.3,948.2 660.8,922.0 662.4,921.0 663.7,915.9 665.6,928.6 666.7,922.0 668.5,922.0 670.0,941.7 671.3,954.3 672.8,954.3 674.5,948.2 676.1,947.1 677.6,941.7 678.9,948.2 681.5,948.2 683.0,954.3 684.4,948.2 685.9,954.3 687.6,960.8 689.1,960.8 690.7,954.3 692.0,954.3 693.5,948.2 697.9,948.2 699.4,944.9 700.7,941.7 702.2,948.2 704.0,948.2 705.5,941.7 707.0,948.2 708.3,941.7 709.9,941.7 711.6,943.8 713.1,946.0 714.9,948.2 717.5,948.2 719.0,954.3 720.8,954.3 722.3,948.2 724.7,948.2 726.2,945.6 727.7,947.1 729.5,943.8 730.8,967.8 732.1,983.1 733.8,980.9 735.4,979.8" fill="none" stroke="#2b4660" stroke-width="2" stroke-linejoin="round"/>
<line x1="461.6" y1="1037.1" x2="461.6" y2="1039.7" stroke="#dcdcdc" stroke-width="0.9"/>
<line x1="474.6" y1="1037.1" x2="474.6" y2="1039.7" stroke="#dcdcdc" stroke-width="0.9"/>
<line x1="487.5" y1="1037.1" x2="487.5" y2="1039.7" stroke="#dcdcdc" stroke-width="0.9"/>
<line x1="500.5" y1="1037.1" x2="500.5" y2="1039.7" stroke="#dcdcdc" stroke-width="0.9"/>
<line x1="513.4" y1="1037.1" x2="513.4" y2="1039.7" stroke="#dcdcdc" stroke-width="0.9"/>
<line x1="526.4" y1="1037.1" x2="526.4" y2="1039.7" stroke="#dcdcdc" stroke-width="0.9"/>
<line x1="539.3" y1="1037.1" x2="539.3" y2="1039.7" stroke="#dcdcdc" stroke-width="0.9"/>
<line x1="552.2" y1="1037.1" x2="552.2" y2="1039.7" stroke="#dcdcdc" stroke-width="0.9"/>
<line x1="565.2" y1="1037.1" x2="565.2" y2="1039.7" stroke="#dcdcdc" stroke-width="0.9"/>
<line x1="578.1" y1="1037.1" x2="578.1" y2="1039.7" stroke="#dcdcdc" stroke-width="0.9"/>
<line x1="591.1" y1="1037.1" x2="591.1" y2="1039.7" stroke="#dcdcdc" stroke-width="0.9"/>
<line x1="604.0" y1="1037.1" x2="604.0" y2="1039.7" stroke="#dcdcdc" stroke-width="0.9"/>
<line x1="617.0" y1="1037.1" x2="617.0" y2="1039.7" stroke="#dcdcdc" stroke-width="0.9"/>
<line x1="630.0" y1="1037.1" x2="630.0" y2="1039.7" stroke="#dcdcdc" stroke-width="0.9"/>
<line x1="642.9" y1="1037.1" x2="642.9" y2="1039.7" stroke="#dcdcdc" stroke-width="0.9"/>
<line x1="655.9" y1="1037.1" x2="655.9" y2="1039.7" stroke="#dcdcdc" stroke-width="0.9"/>
<line x1="668.8" y1="1037.1" x2="668.8" y2="1039.7" stroke="#dcdcdc" stroke-width="0.9"/>
<line x1="681.8" y1="1037.1" x2="681.8" y2="1039.7" stroke="#dcdcdc" stroke-width="0.9"/>
<line x1="694.7" y1="1037.1" x2="694.7" y2="1039.7" stroke="#dcdcdc" stroke-width="0.9"/>
<line x1="707.6" y1="1037.1" x2="707.6" y2="1039.7" stroke="#dcdcdc" stroke-width="0.9"/>
<line x1="720.6" y1="1037.1" x2="720.6" y2="1039.7" stroke="#dcdcdc" stroke-width="0.9"/>
<line x1="733.5" y1="1037.1" x2="733.5" y2="1039.7" stroke="#dcdcdc" stroke-width="0.9"/>
<text class="c" x="452.5" y="912.2" font-size="7.2" text-anchor="end">10</text>
<text class="c" x="452.5" y="925.0" font-size="7.2" text-anchor="end">9</text>
<text class="c" x="452.5" y="937.7" font-size="7.2" text-anchor="end">8</text>
<text class="c" x="452.5" y="950.5" font-size="7.2" text-anchor="end">7</text>
<text class="c" x="452.5" y="963.3" font-size="7.2" text-anchor="end">6</text>
<text class="c" x="452.5" y="976.1" font-size="7.2" text-anchor="end">5</text>
<text class="c" x="452.5" y="988.8" font-size="7.2" text-anchor="end">4</text>
<text class="c" x="452.5" y="1001.6" font-size="7.2" text-anchor="end">3</text>
<text class="c" x="452.5" y="1014.4" font-size="7.2" text-anchor="end">2</text>
<text class="c" x="452.5" y="1027.1" font-size="7.2" text-anchor="end">1</text>
<text class="c" x="452.5" y="1039.9" font-size="7.2" text-anchor="end">0</text>
<text class="c" transform="translate(462.6,1044.6) rotate(-45)" x="-28.8" font-size="7.2" textLength="28.8">17/07/14</text>
<text class="c" transform="translate(475.6,1044.6) rotate(-45)" x="-28.8" font-size="7.2" textLength="28.8">17/09/14</text>
<text class="c" transform="translate(488.5,1044.6) rotate(-45)" x="-28.8" font-size="7.2" textLength="28.8">17/11/14</text>
<text class="c" transform="translate(501.5,1044.6) rotate(-45)" x="-28.8" font-size="7.2" textLength="28.8">18/01/14</text>
<text class="c" transform="translate(514.4,1044.6) rotate(-45)" x="-28.8" font-size="7.2" textLength="28.8">18/03/14</text>
<text class="c" transform="translate(527.4,1044.6) rotate(-45)" x="-28.8" font-size="7.2" textLength="28.8">18/05/14</text>
<text class="c" transform="translate(540.3,1044.6) rotate(-45)" x="-28.8" font-size="7.2" textLength="28.8">18/07/14</text>
<text class="c" transform="translate(553.2,1044.6) rotate(-45)" x="-28.8" font-size="7.2" textLength="28.8">18/09/14</text>
<text class="c" transform="translate(566.2,1044.6) rotate(-45)" x="-28.8" font-size="7.2" textLength="28.8">18/11/14</text>
<text class="c" transform="translate(579.1,1044.6) rotate(-45)" x="-28.8" font-size="7.2" textLength="28.8">19/01/14</text>
<text class="c" transform="translate(592.1,1044.6) rotate(-45)" x="-28.8" font-size="7.2" textLength="28.8">19/03/14</text>
<text class="c" transform="translate(605.0,1044.6) rotate(-45)" x="-28.8" font-size="7.2" textLength="28.8">19/05/14</text>
<text class="c" transform="translate(618.0,1044.6) rotate(-45)" x="-28.8" font-size="7.2" textLength="28.8">19/07/14</text>
<text class="c" transform="translate(631.0,1044.6) rotate(-45)" x="-28.8" font-size="7.2" textLength="28.8">19/09/14</text>
<text class="c" transform="translate(643.9,1044.6) rotate(-45)" x="-28.8" font-size="7.2" textLength="28.8">19/11/14</text>
<text class="c" transform="translate(656.9,1044.6) rotate(-45)" x="-28.8" font-size="7.2" textLength="28.8">20/01/14</text>
<text class="c" transform="translate(669.8,1044.6) rotate(-45)" x="-28.8" font-size="7.2" textLength="28.8">20/03/14</text>
<text class="c" transform="translate(682.8,1044.6) rotate(-45)" x="-28.8" font-size="7.2" textLength="28.8">20/05/14</text>
<text class="c" transform="translate(695.7,1044.6) rotate(-45)" x="-28.8" font-size="7.2" textLength="28.8">20/07/14</text>
<text class="c" transform="translate(708.6,1044.6) rotate(-45)" x="-28.8" font-size="7.2" textLength="28.8">20/09/14</text>
<text class="c" transform="translate(721.6,1044.6) rotate(-45)" x="-28.8" font-size="7.2" textLength="28.8">20/11/14</text>
<text class="c" transform="translate(734.5,1044.6) rotate(-45)" x="-28.8" font-size="7.2" textLength="28.8">21/01/14</text>
<text class="c" x="438.5" y="902.3" font-size="7.2" text-anchor="start">天</text>
<line x1="570.0" y1="894.8" x2="583.0" y2="894.8" stroke="#2b4660" stroke-width="2" stroke-linecap="round"/>
<text class="c" x="584.7" y="897.6" font-size="7.2" text-anchor="start">库存天数</text>
<!-- logo mark -->
<g>
<clipPath id="fc"><rect x="628.3" y="15" width="20" height="50"/></clipPath>
<text x="586.6" y="59.9" font-family="Liberation Sans, sans-serif" font-weight="700" font-size="51" fill="#c9c9c9" textLength="26.5" lengthAdjust="spacingAndGlyphs">z</text>
<text x="610.5" y="59.9" font-family="Liberation Sans, sans-serif" font-weight="700" font-size="51" fill="#c9c9c9" textLength="19" lengthAdjust="spacingAndGlyphs">r</text>
<text x="624.2" y="59.9" font-family="Liberation Sans, sans-serif" font-weight="700" font-size="53.5" fill="#0d3a7a" textLength="20" lengthAdjust="spacingAndGlyphs" clip-path="url(#fc)">f</text>
</g>
<!-- bullet -->
<g>
<rect x="69.3" y="79.8" width="2.9" height="3.3" fill="#f7d354" opacity=".9"/>
<rect x="67.1" y="83.1" width="3.3" height="3.4" fill="#ee8c86"/>
<ellipse cx="73.3" cy="85.8" rx="3.3" ry="2.2" fill="#5a50b8" opacity=".9"/>
<rect x="72" y="79.1" width="1.1" height="9.8" fill="#0a0a14"/>
</g>
</svg>
<div class="lcn">中融汇信期货</div>
<div class="len">ZHONG RONG HUI XIN FUTURES</div>
<div class="sec"><span class="n"><span>PTA&amp;MEG</span></span>数据监测图库</div>
<div class="t" style="left:88.5px;top:110.3px"><span class="n" style="width:23px"><span style="transform:scaleX(0.54)">MEG</span></span>持仓量出现小幅回落</div>
<div class="t" style="left:443px;top:110.3px"><span class="n" style="width:23px"><span style="transform:scaleX(0.54)">MEG</span></span>基差维持低位</div>
<div class="t" style="left:88.5px;top:360.1px"><span class="n" style="width:23px"><span style="transform:scaleX(0.54)">MEG</span></span>港口库存仍维持低位</div>
<div class="t" style="left:443px;top:360.1px"><span class="n" style="width:23px"><span style="transform:scaleX(0.54)">MEG</span></span>现货价格区间调整</div>
<div class="t" style="left:88.5px;top:609.8px"><span class="n" style="width:18.8px"><span style="transform:scaleX(0.7)">PX-</span></span>石脑油价差维持低位区间震荡</div>
<div class="t" style="left:443px;top:609.8px"><span class="n" style="width:23px"><span style="transform:scaleX(0.68)">PTA</span></span>现货价区间调整</div>
<div class="t" style="left:88.5px;top:859.8px"><span class="n" style="width:23px"><span style="transform:scaleX(0.68)">PTA</span></span>仓单数量反弹</div>
<div class="t" style="left:443px;top:859.8px"><span class="n" style="width:23px"><span style="transform:scaleX(0.68)">PTA</span></span>库存天数小幅反弹</div>
<div class="hr" style="top:132px"></div>
<div class="hr" style="top:382px"></div>
<div class="hr" style="top:632px"></div>
<div class="hr" style="top:882px"></div>
<div class="src" style="left:80px;top:334.2px">数据来源：<span class="w">Wind</span> 资讯</div><div class="src" style="left:448px;top:334.2px">数据来源：<span class="w">Wind</span> 资讯</div>
<div class="src" style="left:80px;top:583.7px">数据来源：<span class="w">Wind</span> 资讯</div><div class="src" style="left:448px;top:583.7px">数据来源：<span class="w">Wind</span> 资讯</div>
<div class="src" style="left:80px;top:833.2px">数据来源：<span class="w">Wind</span> 资讯</div><div class="src" style="left:443px;top:833.2px">数据来源：<span class="w">Wind</span> 资讯</div>
<div class="src" style="left:80px;top:1083.2px">数据来源：<span class="w">Wind</span> 资讯</div><div class="src" style="left:448px;top:1083.2px">数据来源：<span class="w">Wind</span> 资讯</div>
<div class="foot">请务必阅读正文之后的免责声明</div>
</body></html>
